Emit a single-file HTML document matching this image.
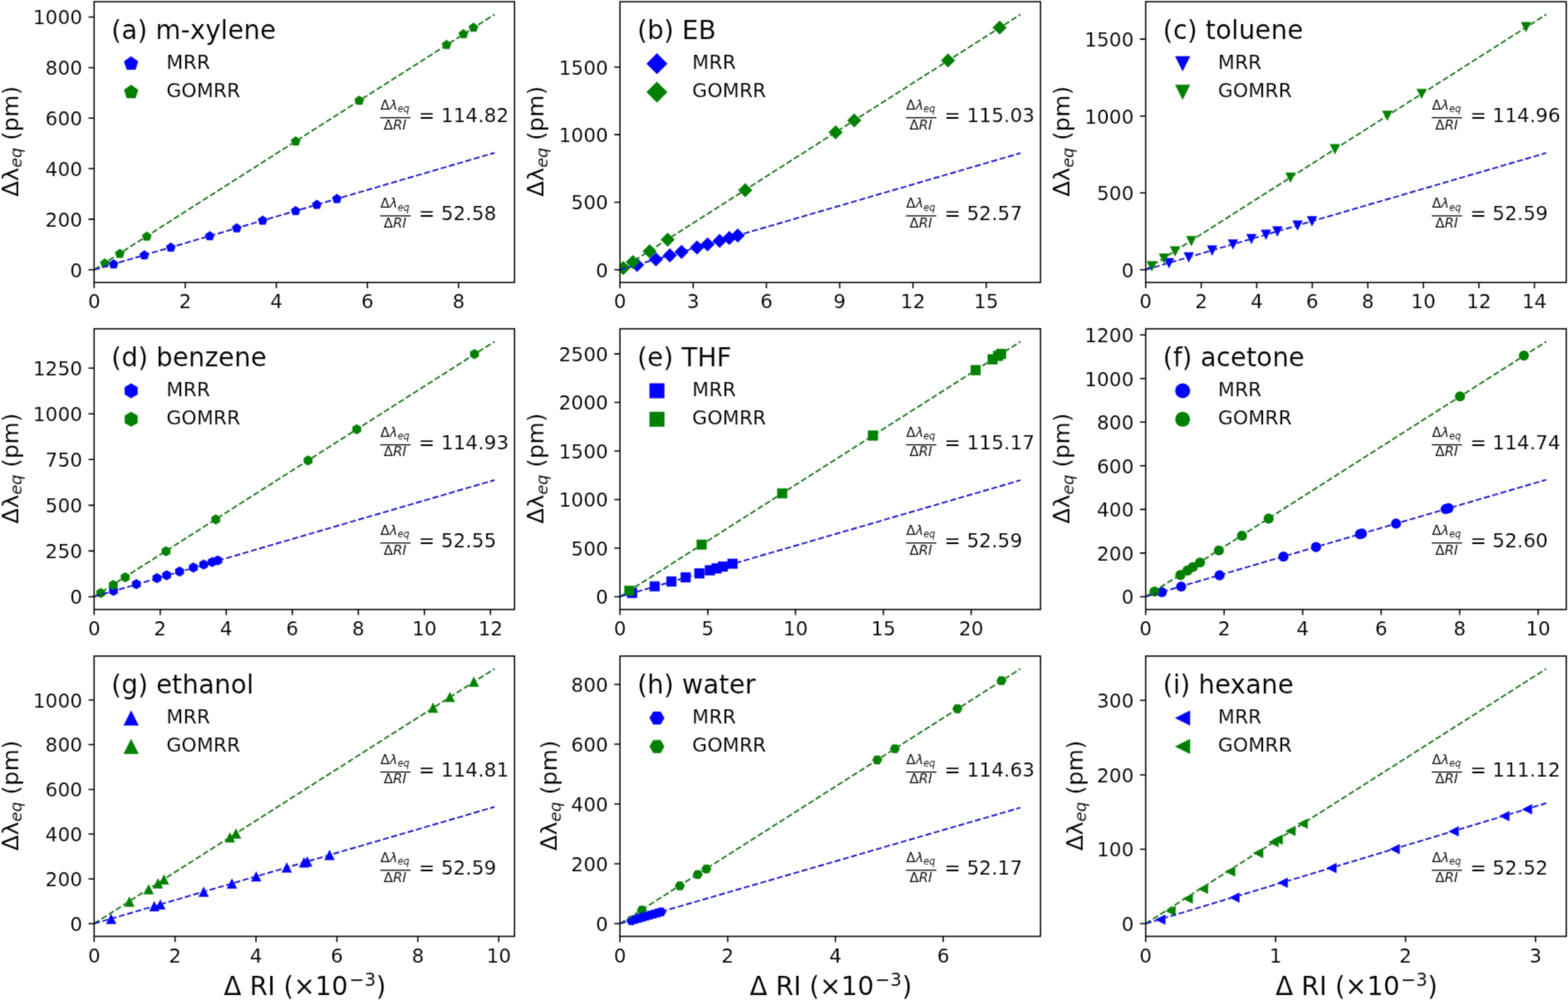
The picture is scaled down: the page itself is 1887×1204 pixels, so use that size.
<!DOCTYPE html>
<html lang="en">
<head>
<meta charset="utf-8">
<title>Sensitivity plots</title>
<style>
html,body{margin:0;padding:0;background:#fff;}
body{width:1887px;height:1204px;overflow:hidden;}
svg{display:block;}
svg text{font-family:"DejaVu Sans", "Liberation Sans", sans-serif;fill:#000;stroke:#fff;stroke-width:0.12px;}
</style>
</head>
<body>
<svg width="1887" height="1204" viewBox="0 0 1887 1204">
<defs><filter id="soft" x="0" y="0" width="1887" height="1204" filterUnits="userSpaceOnUse" color-interpolation-filters="sRGB"><feConvolveMatrix order="3" kernelMatrix="0.02768 0.11101 0.02768 0.11101 0.44521 0.11101 0.02768 0.11101 0.02768" divisor="1" edgeMode="duplicate" preserveAlpha="true"/></filter></defs>
<g filter="url(#soft)">
<rect width="1887" height="1204" fill="#fff"/>
<g>
<clipPath id="c0"><rect x="113.3" y="2.05" width="505.9" height="338.05"/></clipPath>
<g clip-path="url(#c0)">
<path transform="translate(136.7 318.18)" d="M0 -5.83 L5.55 -1.8 L3.43 4.72 L-3.43 4.72 L-5.55 -1.8Z" fill="#0000ff" stroke="#0000ff" stroke-width="0.5" stroke-linejoin="round"/>
<path transform="translate(126.2 317.08)" d="M0 -5.83 L5.55 -1.8 L3.43 4.72 L-3.43 4.72 L-5.55 -1.8Z" fill="#008000" stroke="#008000" stroke-width="0.5" stroke-linejoin="round"/>
<path transform="translate(173.7 307.33)" d="M0 -5.83 L5.55 -1.8 L3.43 4.72 L-3.43 4.72 L-5.55 -1.8Z" fill="#0000ff" stroke="#0000ff" stroke-width="0.5" stroke-linejoin="round"/>
<path transform="translate(144.2 305.56)" d="M0 -5.83 L5.55 -1.8 L3.43 4.72 L-3.43 4.72 L-5.55 -1.8Z" fill="#008000" stroke="#008000" stroke-width="0.5" stroke-linejoin="round"/>
<path transform="translate(205.6 297.98)" d="M0 -5.83 L5.55 -1.8 L3.43 4.72 L-3.43 4.72 L-5.55 -1.8Z" fill="#0000ff" stroke="#0000ff" stroke-width="0.5" stroke-linejoin="round"/>
<path transform="translate(176.7 284.77)" d="M0 -5.83 L5.55 -1.8 L3.43 4.72 L-3.43 4.72 L-5.55 -1.8Z" fill="#008000" stroke="#008000" stroke-width="0.5" stroke-linejoin="round"/>
<path transform="translate(252.4 284.27)" d="M0 -5.83 L5.55 -1.8 L3.43 4.72 L-3.43 4.72 L-5.55 -1.8Z" fill="#0000ff" stroke="#0000ff" stroke-width="0.5" stroke-linejoin="round"/>
<path transform="translate(355.8 170.18)" d="M0 -5.83 L5.55 -1.8 L3.43 4.72 L-3.43 4.72 L-5.55 -1.8Z" fill="#008000" stroke="#008000" stroke-width="0.5" stroke-linejoin="round"/>
<path transform="translate(284.9 274.74)" d="M0 -5.83 L5.55 -1.8 L3.43 4.72 L-3.43 4.72 L-5.55 -1.8Z" fill="#0000ff" stroke="#0000ff" stroke-width="0.5" stroke-linejoin="round"/>
<path transform="translate(432.4 121.17)" d="M0 -5.83 L5.55 -1.8 L3.43 4.72 L-3.43 4.72 L-5.55 -1.8Z" fill="#008000" stroke="#008000" stroke-width="0.5" stroke-linejoin="round"/>
<path transform="translate(316.1 265.6)" d="M0 -5.83 L5.55 -1.8 L3.43 4.72 L-3.43 4.72 L-5.55 -1.8Z" fill="#0000ff" stroke="#0000ff" stroke-width="0.5" stroke-linejoin="round"/>
<path transform="translate(537.4 54)" d="M0 -5.83 L5.55 -1.8 L3.43 4.72 L-3.43 4.72 L-5.55 -1.8Z" fill="#008000" stroke="#008000" stroke-width="0.5" stroke-linejoin="round"/>
<path transform="translate(355.8 253.97)" d="M0 -5.83 L5.55 -1.8 L3.43 4.72 L-3.43 4.72 L-5.55 -1.8Z" fill="#0000ff" stroke="#0000ff" stroke-width="0.5" stroke-linejoin="round"/>
<path transform="translate(557.7 41.01)" d="M0 -5.83 L5.55 -1.8 L3.43 4.72 L-3.43 4.72 L-5.55 -1.8Z" fill="#008000" stroke="#008000" stroke-width="0.5" stroke-linejoin="round"/>
<path transform="translate(381.3 246.49)" d="M0 -5.83 L5.55 -1.8 L3.43 4.72 L-3.43 4.72 L-5.55 -1.8Z" fill="#0000ff" stroke="#0000ff" stroke-width="0.5" stroke-linejoin="round"/>
<path transform="translate(569.8 33.27)" d="M0 -5.83 L5.55 -1.8 L3.43 4.72 L-3.43 4.72 L-5.55 -1.8Z" fill="#008000" stroke="#008000" stroke-width="0.5" stroke-linejoin="round"/>
<path transform="translate(405.4 239.43)" d="M0 -5.83 L5.55 -1.8 L3.43 4.72 L-3.43 4.72 L-5.55 -1.8Z" fill="#0000ff" stroke="#0000ff" stroke-width="0.5" stroke-linejoin="round"/>
<mask id="mg0" maskUnits="userSpaceOnUse" x="113.3" y="2.05" width="505.9" height="338.05"><rect x="113.3" y="2.05" width="505.9" height="338.05" fill="#fff"/><path transform="translate(126.2 317.08)" d="M0 -5.83 L5.55 -1.8 L3.43 4.72 L-3.43 4.72 L-5.55 -1.8Z" fill="#000" stroke="#000" stroke-width="0.5" stroke-linejoin="round"/><path transform="translate(144.2 305.56)" d="M0 -5.83 L5.55 -1.8 L3.43 4.72 L-3.43 4.72 L-5.55 -1.8Z" fill="#000" stroke="#000" stroke-width="0.5" stroke-linejoin="round"/><path transform="translate(176.7 284.77)" d="M0 -5.83 L5.55 -1.8 L3.43 4.72 L-3.43 4.72 L-5.55 -1.8Z" fill="#000" stroke="#000" stroke-width="0.5" stroke-linejoin="round"/><path transform="translate(355.8 170.18)" d="M0 -5.83 L5.55 -1.8 L3.43 4.72 L-3.43 4.72 L-5.55 -1.8Z" fill="#000" stroke="#000" stroke-width="0.5" stroke-linejoin="round"/><path transform="translate(432.4 121.17)" d="M0 -5.83 L5.55 -1.8 L3.43 4.72 L-3.43 4.72 L-5.55 -1.8Z" fill="#000" stroke="#000" stroke-width="0.5" stroke-linejoin="round"/><path transform="translate(537.4 54)" d="M0 -5.83 L5.55 -1.8 L3.43 4.72 L-3.43 4.72 L-5.55 -1.8Z" fill="#000" stroke="#000" stroke-width="0.5" stroke-linejoin="round"/><path transform="translate(557.7 41.01)" d="M0 -5.83 L5.55 -1.8 L3.43 4.72 L-3.43 4.72 L-5.55 -1.8Z" fill="#000" stroke="#000" stroke-width="0.5" stroke-linejoin="round"/><path transform="translate(569.8 33.27)" d="M0 -5.83 L5.55 -1.8 L3.43 4.72 L-3.43 4.72 L-5.55 -1.8Z" fill="#000" stroke="#000" stroke-width="0.5" stroke-linejoin="round"/></mask>
<mask id="mb0" maskUnits="userSpaceOnUse" x="113.3" y="2.05" width="505.9" height="338.05"><rect x="113.3" y="2.05" width="505.9" height="338.05" fill="#fff"/><path transform="translate(136.7 318.18)" d="M0 -5.83 L5.55 -1.8 L3.43 4.72 L-3.43 4.72 L-5.55 -1.8Z" fill="#000" stroke="#000" stroke-width="0.5" stroke-linejoin="round"/><path transform="translate(173.7 307.33)" d="M0 -5.83 L5.55 -1.8 L3.43 4.72 L-3.43 4.72 L-5.55 -1.8Z" fill="#000" stroke="#000" stroke-width="0.5" stroke-linejoin="round"/><path transform="translate(205.6 297.98)" d="M0 -5.83 L5.55 -1.8 L3.43 4.72 L-3.43 4.72 L-5.55 -1.8Z" fill="#000" stroke="#000" stroke-width="0.5" stroke-linejoin="round"/><path transform="translate(252.4 284.27)" d="M0 -5.83 L5.55 -1.8 L3.43 4.72 L-3.43 4.72 L-5.55 -1.8Z" fill="#000" stroke="#000" stroke-width="0.5" stroke-linejoin="round"/><path transform="translate(284.9 274.74)" d="M0 -5.83 L5.55 -1.8 L3.43 4.72 L-3.43 4.72 L-5.55 -1.8Z" fill="#000" stroke="#000" stroke-width="0.5" stroke-linejoin="round"/><path transform="translate(316.1 265.6)" d="M0 -5.83 L5.55 -1.8 L3.43 4.72 L-3.43 4.72 L-5.55 -1.8Z" fill="#000" stroke="#000" stroke-width="0.5" stroke-linejoin="round"/><path transform="translate(355.8 253.97)" d="M0 -5.83 L5.55 -1.8 L3.43 4.72 L-3.43 4.72 L-5.55 -1.8Z" fill="#000" stroke="#000" stroke-width="0.5" stroke-linejoin="round"/><path transform="translate(381.3 246.49)" d="M0 -5.83 L5.55 -1.8 L3.43 4.72 L-3.43 4.72 L-5.55 -1.8Z" fill="#000" stroke="#000" stroke-width="0.5" stroke-linejoin="round"/><path transform="translate(405.4 239.43)" d="M0 -5.83 L5.55 -1.8 L3.43 4.72 L-3.43 4.72 L-5.55 -1.8Z" fill="#000" stroke="#000" stroke-width="0.5" stroke-linejoin="round"/></mask>
<g mask="url(#mg0)"><path d="M113.3 324.73 L595.11 17.42" stroke="#1c761c" stroke-width="1.94" stroke-dasharray="7.222 3.123" fill="none"/></g>
<g mask="url(#mb0)"><path d="M113.3 324.73 L595.11 184" stroke="#1a14cc" stroke-width="1.94" stroke-dasharray="7.222 3.123" fill="none"/></g>
</g>
<rect x="113.3" y="2.05" width="505.9" height="338.05" fill="none" stroke="#000" stroke-width="1.56"/>
<path d="M113.3 340.1 v6.8M222.93 340.1 v6.8M332.55 340.1 v6.8M442.18 340.1 v6.8M551.81 340.1 v6.8M113.3 324.73 h-6.8M113.3 263.9 h-6.8M113.3 203.07 h-6.8M113.3 142.24 h-6.8M113.3 81.41 h-6.8M113.3 20.58 h-6.8" stroke="#000" stroke-width="1.56" fill="none"/>
<g font-size="23.33">
<text x="113.3" y="371.44" text-anchor="middle">0</text>
<text x="222.93" y="371.44" text-anchor="middle">2</text>
<text x="332.55" y="371.44" text-anchor="middle">4</text>
<text x="442.18" y="371.44" text-anchor="middle">6</text>
<text x="551.81" y="371.44" text-anchor="middle">8</text>
<text x="99.09" y="333.6" text-anchor="end">0</text>
<text x="99.09" y="272.77" text-anchor="end">200</text>
<text x="99.09" y="211.94" text-anchor="end">400</text>
<text x="99.09" y="151.11" text-anchor="end">600</text>
<text x="99.09" y="90.27" text-anchor="end">800</text>
<text x="99.09" y="29.44" text-anchor="end">1000</text>
</g>
<text x="134.1" y="46.65" font-size="31.1">(a) m-xylene</text>
<path transform="translate(157.8 76.65)" d="M0 -8.75 L8.32 -2.7 L5.14 7.08 L-5.14 7.08 L-8.32 -2.7Z" fill="#0000ff" stroke="#0000ff" stroke-width="0.5" stroke-linejoin="round"/>
<path transform="translate(157.8 110.95)" d="M0 -8.75 L8.32 -2.7 L5.14 7.08 L-5.14 7.08 L-8.32 -2.7Z" fill="#008000" stroke="#008000" stroke-width="0.5" stroke-linejoin="round"/>
<text x="200.3" y="83.25" font-size="23.33">MRR</text>
<text x="200.3" y="116.85" font-size="23.33">GOMRR</text>
<g><text x="457.7" y="132.05" font-size="16.33">Δ<tspan font-style="italic">λ</tspan><tspan font-style="italic" font-size="11.43" dy="3.27">eq</tspan></text><rect x="457.6" y="141.05" width="36.5" height="1.3" fill="#000"/><text x="461.8" y="155.55" font-size="16.33">Δ<tspan font-style="italic">RI</tspan></text><text x="503.7" y="146.65" font-size="23.33">= 114.82</text></g>
<g><text x="457.7" y="250.25" font-size="16.33">Δ<tspan font-style="italic">λ</tspan><tspan font-style="italic" font-size="11.43" dy="3.27">eq</tspan></text><rect x="457.6" y="259.25" width="36.5" height="1.3" fill="#000"/><text x="461.8" y="273.75" font-size="16.33">Δ<tspan font-style="italic">RI</tspan></text><text x="503.7" y="264.85" font-size="23.33">= 52.58</text></g>
<text transform="translate(21.6 170.18) rotate(-90)" font-size="27.4" text-anchor="middle">Δλ<tspan font-style="italic" font-size="19.18" dy="4.66">eq</tspan><tspan dy="-4.66"> (pm)</tspan></text>
</g>
<g>
<clipPath id="c1"><rect x="746.1" y="2.05" width="506.1" height="338.05"/></clipPath>
<g clip-path="url(#c1)">
<path transform="translate(766.7 319.01)" d="M0 -8.25 L8.25 0 L0 8.25 L-8.25 0Z" fill="#0000ff" stroke="#0000ff" stroke-width="0.5" stroke-linejoin="round"/>
<path transform="translate(750.05 322.81)" d="M0 -8.25 L8.25 0 L0 8.25 L-8.25 0Z" fill="#008000" stroke="#008000" stroke-width="0.5" stroke-linejoin="round"/>
<path transform="translate(789.4 312.37)" d="M0 -8.25 L8.25 0 L0 8.25 L-8.25 0Z" fill="#0000ff" stroke="#0000ff" stroke-width="0.5" stroke-linejoin="round"/>
<path transform="translate(761.55 315.45)" d="M0 -8.25 L8.25 0 L0 8.25 L-8.25 0Z" fill="#008000" stroke="#008000" stroke-width="0.5" stroke-linejoin="round"/>
<path transform="translate(806.1 307.49)" d="M0 -8.25 L8.25 0 L0 8.25 L-8.25 0Z" fill="#0000ff" stroke="#0000ff" stroke-width="0.5" stroke-linejoin="round"/>
<path transform="translate(781.8 302.5)" d="M0 -8.25 L8.25 0 L0 8.25 L-8.25 0Z" fill="#008000" stroke="#008000" stroke-width="0.5" stroke-linejoin="round"/>
<path transform="translate(820.2 303.37)" d="M0 -8.25 L8.25 0 L0 8.25 L-8.25 0Z" fill="#0000ff" stroke="#0000ff" stroke-width="0.5" stroke-linejoin="round"/>
<path transform="translate(803.5 288.62)" d="M0 -8.25 L8.25 0 L0 8.25 L-8.25 0Z" fill="#008000" stroke="#008000" stroke-width="0.5" stroke-linejoin="round"/>
<path transform="translate(838.8 297.93)" d="M0 -8.25 L8.25 0 L0 8.25 L-8.25 0Z" fill="#0000ff" stroke="#0000ff" stroke-width="0.5" stroke-linejoin="round"/>
<path transform="translate(896.8 228.95)" d="M0 -8.25 L8.25 0 L0 8.25 L-8.25 0Z" fill="#008000" stroke="#008000" stroke-width="0.5" stroke-linejoin="round"/>
<path transform="translate(851.5 294.22)" d="M0 -8.25 L8.25 0 L0 8.25 L-8.25 0Z" fill="#0000ff" stroke="#0000ff" stroke-width="0.5" stroke-linejoin="round"/>
<path transform="translate(1005.6 159.37)" d="M0 -8.25 L8.25 0 L0 8.25 L-8.25 0Z" fill="#008000" stroke="#008000" stroke-width="0.5" stroke-linejoin="round"/>
<path transform="translate(866 289.98)" d="M0 -8.25 L8.25 0 L0 8.25 L-8.25 0Z" fill="#0000ff" stroke="#0000ff" stroke-width="0.5" stroke-linejoin="round"/>
<path transform="translate(1028 145.05)" d="M0 -8.25 L8.25 0 L0 8.25 L-8.25 0Z" fill="#008000" stroke="#008000" stroke-width="0.5" stroke-linejoin="round"/>
<path transform="translate(877.7 286.56)" d="M0 -8.25 L8.25 0 L0 8.25 L-8.25 0Z" fill="#0000ff" stroke="#0000ff" stroke-width="0.5" stroke-linejoin="round"/>
<path transform="translate(1140.95 72.81)" d="M0 -8.25 L8.25 0 L0 8.25 L-8.25 0Z" fill="#008000" stroke="#008000" stroke-width="0.5" stroke-linejoin="round"/>
<path transform="translate(887.8 283.61)" d="M0 -8.25 L8.25 0 L0 8.25 L-8.25 0Z" fill="#0000ff" stroke="#0000ff" stroke-width="0.5" stroke-linejoin="round"/>
<path transform="translate(1203 33.13)" d="M0 -8.25 L8.25 0 L0 8.25 L-8.25 0Z" fill="#008000" stroke="#008000" stroke-width="0.5" stroke-linejoin="round"/>
<mask id="mg1" maskUnits="userSpaceOnUse" x="746.1" y="2.05" width="506.1" height="338.05"><rect x="746.1" y="2.05" width="506.1" height="338.05" fill="#fff"/><path transform="translate(750.05 322.81)" d="M0 -8.25 L8.25 0 L0 8.25 L-8.25 0Z" fill="#000" stroke="#000" stroke-width="0.5" stroke-linejoin="round"/><path transform="translate(761.55 315.45)" d="M0 -8.25 L8.25 0 L0 8.25 L-8.25 0Z" fill="#000" stroke="#000" stroke-width="0.5" stroke-linejoin="round"/><path transform="translate(781.8 302.5)" d="M0 -8.25 L8.25 0 L0 8.25 L-8.25 0Z" fill="#000" stroke="#000" stroke-width="0.5" stroke-linejoin="round"/><path transform="translate(803.5 288.62)" d="M0 -8.25 L8.25 0 L0 8.25 L-8.25 0Z" fill="#000" stroke="#000" stroke-width="0.5" stroke-linejoin="round"/><path transform="translate(896.8 228.95)" d="M0 -8.25 L8.25 0 L0 8.25 L-8.25 0Z" fill="#000" stroke="#000" stroke-width="0.5" stroke-linejoin="round"/><path transform="translate(1005.6 159.37)" d="M0 -8.25 L8.25 0 L0 8.25 L-8.25 0Z" fill="#000" stroke="#000" stroke-width="0.5" stroke-linejoin="round"/><path transform="translate(1028 145.05)" d="M0 -8.25 L8.25 0 L0 8.25 L-8.25 0Z" fill="#000" stroke="#000" stroke-width="0.5" stroke-linejoin="round"/><path transform="translate(1140.95 72.81)" d="M0 -8.25 L8.25 0 L0 8.25 L-8.25 0Z" fill="#000" stroke="#000" stroke-width="0.5" stroke-linejoin="round"/><path transform="translate(1203 33.13)" d="M0 -8.25 L8.25 0 L0 8.25 L-8.25 0Z" fill="#000" stroke="#000" stroke-width="0.5" stroke-linejoin="round"/></mask>
<mask id="mb1" maskUnits="userSpaceOnUse" x="746.1" y="2.05" width="506.1" height="338.05"><rect x="746.1" y="2.05" width="506.1" height="338.05" fill="#fff"/><path transform="translate(766.7 319.01)" d="M0 -8.25 L8.25 0 L0 8.25 L-8.25 0Z" fill="#000" stroke="#000" stroke-width="0.5" stroke-linejoin="round"/><path transform="translate(789.4 312.37)" d="M0 -8.25 L8.25 0 L0 8.25 L-8.25 0Z" fill="#000" stroke="#000" stroke-width="0.5" stroke-linejoin="round"/><path transform="translate(806.1 307.49)" d="M0 -8.25 L8.25 0 L0 8.25 L-8.25 0Z" fill="#000" stroke="#000" stroke-width="0.5" stroke-linejoin="round"/><path transform="translate(820.2 303.37)" d="M0 -8.25 L8.25 0 L0 8.25 L-8.25 0Z" fill="#000" stroke="#000" stroke-width="0.5" stroke-linejoin="round"/><path transform="translate(838.8 297.93)" d="M0 -8.25 L8.25 0 L0 8.25 L-8.25 0Z" fill="#000" stroke="#000" stroke-width="0.5" stroke-linejoin="round"/><path transform="translate(851.5 294.22)" d="M0 -8.25 L8.25 0 L0 8.25 L-8.25 0Z" fill="#000" stroke="#000" stroke-width="0.5" stroke-linejoin="round"/><path transform="translate(866 289.98)" d="M0 -8.25 L8.25 0 L0 8.25 L-8.25 0Z" fill="#000" stroke="#000" stroke-width="0.5" stroke-linejoin="round"/><path transform="translate(877.7 286.56)" d="M0 -8.25 L8.25 0 L0 8.25 L-8.25 0Z" fill="#000" stroke="#000" stroke-width="0.5" stroke-linejoin="round"/><path transform="translate(887.8 283.61)" d="M0 -8.25 L8.25 0 L0 8.25 L-8.25 0Z" fill="#000" stroke="#000" stroke-width="0.5" stroke-linejoin="round"/></mask>
<g mask="url(#mg1)"><path d="M746.1 324.73 L1228.1 17.42" stroke="#1c761c" stroke-width="1.94" stroke-dasharray="7.222 3.123" fill="none"/></g>
<g mask="url(#mb1)"><path d="M746.1 324.73 L1228.1 184.29" stroke="#1a14cc" stroke-width="1.94" stroke-dasharray="7.222 3.123" fill="none"/></g>
</g>
<rect x="746.1" y="2.05" width="506.1" height="338.05" fill="none" stroke="#000" stroke-width="1.56"/>
<path d="M746.1 340.1 v6.8M834.24 340.1 v6.8M922.39 340.1 v6.8M1010.53 340.1 v6.8M1098.68 340.1 v6.8M1186.82 340.1 v6.8M746.1 324.73 h-6.8M746.1 243.43 h-6.8M746.1 162.13 h-6.8M746.1 80.83 h-6.8" stroke="#000" stroke-width="1.56" fill="none"/>
<g font-size="23.33">
<text x="746.1" y="371.44" text-anchor="middle">0</text>
<text x="834.24" y="371.44" text-anchor="middle">3</text>
<text x="922.39" y="371.44" text-anchor="middle">6</text>
<text x="1010.53" y="371.44" text-anchor="middle">9</text>
<text x="1098.68" y="371.44" text-anchor="middle">12</text>
<text x="1186.82" y="371.44" text-anchor="middle">15</text>
<text x="731.89" y="333.6" text-anchor="end">0</text>
<text x="731.89" y="252.3" text-anchor="end">500</text>
<text x="731.89" y="171" text-anchor="end">1000</text>
<text x="731.89" y="89.7" text-anchor="end">1500</text>
</g>
<text x="766.9" y="46.65" font-size="31.1">(b) EB</text>
<path transform="translate(790.6 76.65)" d="M0 -12.37 L12.37 0 L0 12.37 L-12.37 0Z" fill="#0000ff" stroke="#0000ff" stroke-width="0.5" stroke-linejoin="round"/>
<path transform="translate(790.6 110.95)" d="M0 -12.37 L12.37 0 L0 12.37 L-12.37 0Z" fill="#008000" stroke="#008000" stroke-width="0.5" stroke-linejoin="round"/>
<text x="833.1" y="83.25" font-size="23.33">MRR</text>
<text x="833.1" y="116.85" font-size="23.33">GOMRR</text>
<g><text x="1090.5" y="132.05" font-size="16.33">Δ<tspan font-style="italic">λ</tspan><tspan font-style="italic" font-size="11.43" dy="3.27">eq</tspan></text><rect x="1090.4" y="141.05" width="36.5" height="1.3" fill="#000"/><text x="1094.6" y="155.55" font-size="16.33">Δ<tspan font-style="italic">RI</tspan></text><text x="1136.5" y="146.65" font-size="23.33">= 115.03</text></g>
<g><text x="1090.5" y="250.25" font-size="16.33">Δ<tspan font-style="italic">λ</tspan><tspan font-style="italic" font-size="11.43" dy="3.27">eq</tspan></text><rect x="1090.4" y="259.25" width="36.5" height="1.3" fill="#000"/><text x="1094.6" y="273.75" font-size="16.33">Δ<tspan font-style="italic">RI</tspan></text><text x="1136.5" y="264.85" font-size="23.33">= 52.57</text></g>
<text transform="translate(654.4 170.18) rotate(-90)" font-size="27.4" text-anchor="middle">Δλ<tspan font-style="italic" font-size="19.18" dy="4.66">eq</tspan><tspan dy="-4.66"> (pm)</tspan></text>
</g>
<g>
<clipPath id="c2"><rect x="1378.75" y="2.05" width="506.15" height="338.05"/></clipPath>
<g clip-path="url(#c2)">
<path transform="translate(1406.85 316.81)" d="M-5.83 -5.83 L5.83 -5.83 L0 5.83Z" fill="#0000ff" stroke="#0000ff" stroke-width="0.5" stroke-linejoin="round"/>
<path transform="translate(1386.15 320.6)" d="M-5.83 -5.83 L5.83 -5.83 L0 5.83Z" fill="#008000" stroke="#008000" stroke-width="0.5" stroke-linejoin="round"/>
<path transform="translate(1430.65 309.85)" d="M-5.83 -5.83 L5.83 -5.83 L0 5.83Z" fill="#0000ff" stroke="#0000ff" stroke-width="0.5" stroke-linejoin="round"/>
<path transform="translate(1400.75 311.27)" d="M-5.83 -5.83 L5.83 -5.83 L0 5.83Z" fill="#008000" stroke="#008000" stroke-width="0.5" stroke-linejoin="round"/>
<path transform="translate(1458.75 301.62)" d="M-5.83 -5.83 L5.83 -5.83 L0 5.83Z" fill="#0000ff" stroke="#0000ff" stroke-width="0.5" stroke-linejoin="round"/>
<path transform="translate(1414.15 302.7)" d="M-5.83 -5.83 L5.83 -5.83 L0 5.83Z" fill="#008000" stroke="#008000" stroke-width="0.5" stroke-linejoin="round"/>
<path transform="translate(1483.85 294.28)" d="M-5.83 -5.83 L5.83 -5.83 L0 5.83Z" fill="#0000ff" stroke="#0000ff" stroke-width="0.5" stroke-linejoin="round"/>
<path transform="translate(1433.65 290.23)" d="M-5.83 -5.83 L5.83 -5.83 L0 5.83Z" fill="#008000" stroke="#008000" stroke-width="0.5" stroke-linejoin="round"/>
<path transform="translate(1506.05 287.78)" d="M-5.83 -5.83 L5.83 -5.83 L0 5.83Z" fill="#0000ff" stroke="#0000ff" stroke-width="0.5" stroke-linejoin="round"/>
<path transform="translate(1553.05 213.87)" d="M-5.83 -5.83 L5.83 -5.83 L0 5.83Z" fill="#008000" stroke="#008000" stroke-width="0.5" stroke-linejoin="round"/>
<path transform="translate(1523.55 282.66)" d="M-5.83 -5.83 L5.83 -5.83 L0 5.83Z" fill="#0000ff" stroke="#0000ff" stroke-width="0.5" stroke-linejoin="round"/>
<path transform="translate(1606.55 179.66)" d="M-5.83 -5.83 L5.83 -5.83 L0 5.83Z" fill="#008000" stroke="#008000" stroke-width="0.5" stroke-linejoin="round"/>
<path transform="translate(1537.25 278.65)" d="M-5.83 -5.83 L5.83 -5.83 L0 5.83Z" fill="#0000ff" stroke="#0000ff" stroke-width="0.5" stroke-linejoin="round"/>
<path transform="translate(1669.55 139.37)" d="M-5.83 -5.83 L5.83 -5.83 L0 5.83Z" fill="#008000" stroke="#008000" stroke-width="0.5" stroke-linejoin="round"/>
<path transform="translate(1561.55 271.54)" d="M-5.83 -5.83 L5.83 -5.83 L0 5.83Z" fill="#0000ff" stroke="#0000ff" stroke-width="0.5" stroke-linejoin="round"/>
<path transform="translate(1710.85 112.96)" d="M-5.83 -5.83 L5.83 -5.83 L0 5.83Z" fill="#008000" stroke="#008000" stroke-width="0.5" stroke-linejoin="round"/>
<path transform="translate(1578.95 266.45)" d="M-5.83 -5.83 L5.83 -5.83 L0 5.83Z" fill="#0000ff" stroke="#0000ff" stroke-width="0.5" stroke-linejoin="round"/>
<path transform="translate(1836.45 32.64)" d="M-5.83 -5.83 L5.83 -5.83 L0 5.83Z" fill="#008000" stroke="#008000" stroke-width="0.5" stroke-linejoin="round"/>
<mask id="mg2" maskUnits="userSpaceOnUse" x="1378.75" y="2.05" width="506.15" height="338.05"><rect x="1378.75" y="2.05" width="506.15" height="338.05" fill="#fff"/><path transform="translate(1386.15 320.6)" d="M-5.83 -5.83 L5.83 -5.83 L0 5.83Z" fill="#000" stroke="#000" stroke-width="0.5" stroke-linejoin="round"/><path transform="translate(1400.75 311.27)" d="M-5.83 -5.83 L5.83 -5.83 L0 5.83Z" fill="#000" stroke="#000" stroke-width="0.5" stroke-linejoin="round"/><path transform="translate(1414.15 302.7)" d="M-5.83 -5.83 L5.83 -5.83 L0 5.83Z" fill="#000" stroke="#000" stroke-width="0.5" stroke-linejoin="round"/><path transform="translate(1433.65 290.23)" d="M-5.83 -5.83 L5.83 -5.83 L0 5.83Z" fill="#000" stroke="#000" stroke-width="0.5" stroke-linejoin="round"/><path transform="translate(1553.05 213.87)" d="M-5.83 -5.83 L5.83 -5.83 L0 5.83Z" fill="#000" stroke="#000" stroke-width="0.5" stroke-linejoin="round"/><path transform="translate(1606.55 179.66)" d="M-5.83 -5.83 L5.83 -5.83 L0 5.83Z" fill="#000" stroke="#000" stroke-width="0.5" stroke-linejoin="round"/><path transform="translate(1669.55 139.37)" d="M-5.83 -5.83 L5.83 -5.83 L0 5.83Z" fill="#000" stroke="#000" stroke-width="0.5" stroke-linejoin="round"/><path transform="translate(1710.85 112.96)" d="M-5.83 -5.83 L5.83 -5.83 L0 5.83Z" fill="#000" stroke="#000" stroke-width="0.5" stroke-linejoin="round"/><path transform="translate(1836.45 32.64)" d="M-5.83 -5.83 L5.83 -5.83 L0 5.83Z" fill="#000" stroke="#000" stroke-width="0.5" stroke-linejoin="round"/></mask>
<mask id="mb2" maskUnits="userSpaceOnUse" x="1378.75" y="2.05" width="506.15" height="338.05"><rect x="1378.75" y="2.05" width="506.15" height="338.05" fill="#fff"/><path transform="translate(1406.85 316.81)" d="M-5.83 -5.83 L5.83 -5.83 L0 5.83Z" fill="#000" stroke="#000" stroke-width="0.5" stroke-linejoin="round"/><path transform="translate(1430.65 309.85)" d="M-5.83 -5.83 L5.83 -5.83 L0 5.83Z" fill="#000" stroke="#000" stroke-width="0.5" stroke-linejoin="round"/><path transform="translate(1458.75 301.62)" d="M-5.83 -5.83 L5.83 -5.83 L0 5.83Z" fill="#000" stroke="#000" stroke-width="0.5" stroke-linejoin="round"/><path transform="translate(1483.85 294.28)" d="M-5.83 -5.83 L5.83 -5.83 L0 5.83Z" fill="#000" stroke="#000" stroke-width="0.5" stroke-linejoin="round"/><path transform="translate(1506.05 287.78)" d="M-5.83 -5.83 L5.83 -5.83 L0 5.83Z" fill="#000" stroke="#000" stroke-width="0.5" stroke-linejoin="round"/><path transform="translate(1523.55 282.66)" d="M-5.83 -5.83 L5.83 -5.83 L0 5.83Z" fill="#000" stroke="#000" stroke-width="0.5" stroke-linejoin="round"/><path transform="translate(1537.25 278.65)" d="M-5.83 -5.83 L5.83 -5.83 L0 5.83Z" fill="#000" stroke="#000" stroke-width="0.5" stroke-linejoin="round"/><path transform="translate(1561.55 271.54)" d="M-5.83 -5.83 L5.83 -5.83 L0 5.83Z" fill="#000" stroke="#000" stroke-width="0.5" stroke-linejoin="round"/><path transform="translate(1578.95 266.45)" d="M-5.83 -5.83 L5.83 -5.83 L0 5.83Z" fill="#000" stroke="#000" stroke-width="0.5" stroke-linejoin="round"/></mask>
<g mask="url(#mg2)"><path d="M1378.75 324.73 L1860.8 17.42" stroke="#1c761c" stroke-width="1.94" stroke-dasharray="7.222 3.123" fill="none"/></g>
<g mask="url(#mb2)"><path d="M1378.75 324.73 L1860.8 184.15" stroke="#1a14cc" stroke-width="1.94" stroke-dasharray="7.222 3.123" fill="none"/></g>
</g>
<rect x="1378.75" y="2.05" width="506.15" height="338.05" fill="none" stroke="#000" stroke-width="1.56"/>
<path d="M1378.75 340.1 v6.8M1445.59 340.1 v6.8M1512.42 340.1 v6.8M1579.26 340.1 v6.8M1646.09 340.1 v6.8M1712.93 340.1 v6.8M1779.76 340.1 v6.8M1846.6 340.1 v6.8M1378.75 324.73 h-6.8M1378.75 232.2 h-6.8M1378.75 139.66 h-6.8M1378.75 47.12 h-6.8" stroke="#000" stroke-width="1.56" fill="none"/>
<g font-size="23.33">
<text x="1378.75" y="371.44" text-anchor="middle">0</text>
<text x="1445.59" y="371.44" text-anchor="middle">2</text>
<text x="1512.42" y="371.44" text-anchor="middle">4</text>
<text x="1579.26" y="371.44" text-anchor="middle">6</text>
<text x="1646.09" y="371.44" text-anchor="middle">8</text>
<text x="1712.93" y="371.44" text-anchor="middle">10</text>
<text x="1779.76" y="371.44" text-anchor="middle">12</text>
<text x="1846.6" y="371.44" text-anchor="middle">14</text>
<text x="1364.54" y="333.6" text-anchor="end">0</text>
<text x="1364.54" y="241.06" text-anchor="end">500</text>
<text x="1364.54" y="148.52" text-anchor="end">1000</text>
<text x="1364.54" y="55.99" text-anchor="end">1500</text>
</g>
<text x="1399.55" y="46.65" font-size="31.1">(c) toluene</text>
<path transform="translate(1423.25 76.65)" d="M-8.75 -8.75 L8.75 -8.75 L0 8.75Z" fill="#0000ff" stroke="#0000ff" stroke-width="0.5" stroke-linejoin="round"/>
<path transform="translate(1423.25 110.95)" d="M-8.75 -8.75 L8.75 -8.75 L0 8.75Z" fill="#008000" stroke="#008000" stroke-width="0.5" stroke-linejoin="round"/>
<text x="1465.75" y="83.25" font-size="23.33">MRR</text>
<text x="1465.75" y="116.85" font-size="23.33">GOMRR</text>
<g><text x="1723.15" y="132.05" font-size="16.33">Δ<tspan font-style="italic">λ</tspan><tspan font-style="italic" font-size="11.43" dy="3.27">eq</tspan></text><rect x="1723.05" y="141.05" width="36.5" height="1.3" fill="#000"/><text x="1727.25" y="155.55" font-size="16.33">Δ<tspan font-style="italic">RI</tspan></text><text x="1769.15" y="146.65" font-size="23.33">= 114.96</text></g>
<g><text x="1723.15" y="250.25" font-size="16.33">Δ<tspan font-style="italic">λ</tspan><tspan font-style="italic" font-size="11.43" dy="3.27">eq</tspan></text><rect x="1723.05" y="259.25" width="36.5" height="1.3" fill="#000"/><text x="1727.25" y="273.75" font-size="16.33">Δ<tspan font-style="italic">RI</tspan></text><text x="1769.15" y="264.85" font-size="23.33">= 52.59</text></g>
<text transform="translate(1287.05 170.18) rotate(-90)" font-size="27.4" text-anchor="middle">Δλ<tspan font-style="italic" font-size="19.18" dy="4.66">eq</tspan><tspan dy="-4.66"> (pm)</tspan></text>
</g>
<g>
<clipPath id="c3"><rect x="113.3" y="395.9" width="505.9" height="337.9"/></clipPath>
<g clip-path="url(#c3)">
<path transform="translate(136.6 711.35)" d="M0 -5.83 L5.05 -2.92 L5.05 2.92 L0 5.83 L-5.05 2.92 L-5.05 -2.92Z" fill="#0000ff" stroke="#0000ff" stroke-width="0.5" stroke-linejoin="round"/>
<path transform="translate(121.2 713.99)" d="M0 -5.83 L5.05 -2.92 L5.05 2.92 L0 5.83 L-5.05 2.92 L-5.05 -2.92Z" fill="#008000" stroke="#008000" stroke-width="0.5" stroke-linejoin="round"/>
<path transform="translate(164.1 703.33)" d="M0 -5.83 L5.05 -2.92 L5.05 2.92 L0 5.83 L-5.05 2.92 L-5.05 -2.92Z" fill="#0000ff" stroke="#0000ff" stroke-width="0.5" stroke-linejoin="round"/>
<path transform="translate(136.3 704.33)" d="M0 -5.83 L5.05 -2.92 L5.05 2.92 L0 5.83 L-5.05 2.92 L-5.05 -2.92Z" fill="#008000" stroke="#008000" stroke-width="0.5" stroke-linejoin="round"/>
<path transform="translate(188.9 696.1)" d="M0 -5.83 L5.05 -2.92 L5.05 2.92 L0 5.83 L-5.05 2.92 L-5.05 -2.92Z" fill="#0000ff" stroke="#0000ff" stroke-width="0.5" stroke-linejoin="round"/>
<path transform="translate(150.7 695.12)" d="M0 -5.83 L5.05 -2.92 L5.05 2.92 L0 5.83 L-5.05 2.92 L-5.05 -2.92Z" fill="#008000" stroke="#008000" stroke-width="0.5" stroke-linejoin="round"/>
<path transform="translate(200.6 692.69)" d="M0 -5.83 L5.05 -2.92 L5.05 2.92 L0 5.83 L-5.05 2.92 L-5.05 -2.92Z" fill="#0000ff" stroke="#0000ff" stroke-width="0.5" stroke-linejoin="round"/>
<path transform="translate(199.8 663.72)" d="M0 -5.83 L5.05 -2.92 L5.05 2.92 L0 5.83 L-5.05 2.92 L-5.05 -2.92Z" fill="#008000" stroke="#008000" stroke-width="0.5" stroke-linejoin="round"/>
<path transform="translate(216.1 688.17)" d="M0 -5.83 L5.05 -2.92 L5.05 2.92 L0 5.83 L-5.05 2.92 L-5.05 -2.92Z" fill="#0000ff" stroke="#0000ff" stroke-width="0.5" stroke-linejoin="round"/>
<path transform="translate(259.7 625.42)" d="M0 -5.83 L5.05 -2.92 L5.05 2.92 L0 5.83 L-5.05 2.92 L-5.05 -2.92Z" fill="#008000" stroke="#008000" stroke-width="0.5" stroke-linejoin="round"/>
<path transform="translate(232.7 683.33)" d="M0 -5.83 L5.05 -2.92 L5.05 2.92 L0 5.83 L-5.05 2.92 L-5.05 -2.92Z" fill="#0000ff" stroke="#0000ff" stroke-width="0.5" stroke-linejoin="round"/>
<path transform="translate(370.8 554.37)" d="M0 -5.83 L5.05 -2.92 L5.05 2.92 L0 5.83 L-5.05 2.92 L-5.05 -2.92Z" fill="#008000" stroke="#008000" stroke-width="0.5" stroke-linejoin="round"/>
<path transform="translate(245.1 679.72)" d="M0 -5.83 L5.05 -2.92 L5.05 2.92 L0 5.83 L-5.05 2.92 L-5.05 -2.92Z" fill="#0000ff" stroke="#0000ff" stroke-width="0.5" stroke-linejoin="round"/>
<path transform="translate(429.3 516.95)" d="M0 -5.83 L5.05 -2.92 L5.05 2.92 L0 5.83 L-5.05 2.92 L-5.05 -2.92Z" fill="#008000" stroke="#008000" stroke-width="0.5" stroke-linejoin="round"/>
<path transform="translate(255.3 676.75)" d="M0 -5.83 L5.05 -2.92 L5.05 2.92 L0 5.83 L-5.05 2.92 L-5.05 -2.92Z" fill="#0000ff" stroke="#0000ff" stroke-width="0.5" stroke-linejoin="round"/>
<path transform="translate(571.05 426.3)" d="M0 -5.83 L5.05 -2.92 L5.05 2.92 L0 5.83 L-5.05 2.92 L-5.05 -2.92Z" fill="#008000" stroke="#008000" stroke-width="0.5" stroke-linejoin="round"/>
<path transform="translate(262.1 674.76)" d="M0 -5.83 L5.05 -2.92 L5.05 2.92 L0 5.83 L-5.05 2.92 L-5.05 -2.92Z" fill="#0000ff" stroke="#0000ff" stroke-width="0.5" stroke-linejoin="round"/>
<mask id="mg3" maskUnits="userSpaceOnUse" x="113.3" y="395.9" width="505.9" height="337.9"><rect x="113.3" y="395.9" width="505.9" height="337.9" fill="#fff"/><path transform="translate(121.2 713.99)" d="M0 -5.83 L5.05 -2.92 L5.05 2.92 L0 5.83 L-5.05 2.92 L-5.05 -2.92Z" fill="#000" stroke="#000" stroke-width="0.5" stroke-linejoin="round"/><path transform="translate(136.3 704.33)" d="M0 -5.83 L5.05 -2.92 L5.05 2.92 L0 5.83 L-5.05 2.92 L-5.05 -2.92Z" fill="#000" stroke="#000" stroke-width="0.5" stroke-linejoin="round"/><path transform="translate(150.7 695.12)" d="M0 -5.83 L5.05 -2.92 L5.05 2.92 L0 5.83 L-5.05 2.92 L-5.05 -2.92Z" fill="#000" stroke="#000" stroke-width="0.5" stroke-linejoin="round"/><path transform="translate(199.8 663.72)" d="M0 -5.83 L5.05 -2.92 L5.05 2.92 L0 5.83 L-5.05 2.92 L-5.05 -2.92Z" fill="#000" stroke="#000" stroke-width="0.5" stroke-linejoin="round"/><path transform="translate(259.7 625.42)" d="M0 -5.83 L5.05 -2.92 L5.05 2.92 L0 5.83 L-5.05 2.92 L-5.05 -2.92Z" fill="#000" stroke="#000" stroke-width="0.5" stroke-linejoin="round"/><path transform="translate(370.8 554.37)" d="M0 -5.83 L5.05 -2.92 L5.05 2.92 L0 5.83 L-5.05 2.92 L-5.05 -2.92Z" fill="#000" stroke="#000" stroke-width="0.5" stroke-linejoin="round"/><path transform="translate(429.3 516.95)" d="M0 -5.83 L5.05 -2.92 L5.05 2.92 L0 5.83 L-5.05 2.92 L-5.05 -2.92Z" fill="#000" stroke="#000" stroke-width="0.5" stroke-linejoin="round"/><path transform="translate(571.05 426.3)" d="M0 -5.83 L5.05 -2.92 L5.05 2.92 L0 5.83 L-5.05 2.92 L-5.05 -2.92Z" fill="#000" stroke="#000" stroke-width="0.5" stroke-linejoin="round"/></mask>
<mask id="mb3" maskUnits="userSpaceOnUse" x="113.3" y="395.9" width="505.9" height="337.9"><rect x="113.3" y="395.9" width="505.9" height="337.9" fill="#fff"/><path transform="translate(136.6 711.35)" d="M0 -5.83 L5.05 -2.92 L5.05 2.92 L0 5.83 L-5.05 2.92 L-5.05 -2.92Z" fill="#000" stroke="#000" stroke-width="0.5" stroke-linejoin="round"/><path transform="translate(164.1 703.33)" d="M0 -5.83 L5.05 -2.92 L5.05 2.92 L0 5.83 L-5.05 2.92 L-5.05 -2.92Z" fill="#000" stroke="#000" stroke-width="0.5" stroke-linejoin="round"/><path transform="translate(188.9 696.1)" d="M0 -5.83 L5.05 -2.92 L5.05 2.92 L0 5.83 L-5.05 2.92 L-5.05 -2.92Z" fill="#000" stroke="#000" stroke-width="0.5" stroke-linejoin="round"/><path transform="translate(200.6 692.69)" d="M0 -5.83 L5.05 -2.92 L5.05 2.92 L0 5.83 L-5.05 2.92 L-5.05 -2.92Z" fill="#000" stroke="#000" stroke-width="0.5" stroke-linejoin="round"/><path transform="translate(216.1 688.17)" d="M0 -5.83 L5.05 -2.92 L5.05 2.92 L0 5.83 L-5.05 2.92 L-5.05 -2.92Z" fill="#000" stroke="#000" stroke-width="0.5" stroke-linejoin="round"/><path transform="translate(232.7 683.33)" d="M0 -5.83 L5.05 -2.92 L5.05 2.92 L0 5.83 L-5.05 2.92 L-5.05 -2.92Z" fill="#000" stroke="#000" stroke-width="0.5" stroke-linejoin="round"/><path transform="translate(245.1 679.72)" d="M0 -5.83 L5.05 -2.92 L5.05 2.92 L0 5.83 L-5.05 2.92 L-5.05 -2.92Z" fill="#000" stroke="#000" stroke-width="0.5" stroke-linejoin="round"/><path transform="translate(255.3 676.75)" d="M0 -5.83 L5.05 -2.92 L5.05 2.92 L0 5.83 L-5.05 2.92 L-5.05 -2.92Z" fill="#000" stroke="#000" stroke-width="0.5" stroke-linejoin="round"/><path transform="translate(262.1 674.76)" d="M0 -5.83 L5.05 -2.92 L5.05 2.92 L0 5.83 L-5.05 2.92 L-5.05 -2.92Z" fill="#000" stroke="#000" stroke-width="0.5" stroke-linejoin="round"/></mask>
<g mask="url(#mg3)"><path d="M113.3 718.44 L595.11 411.26" stroke="#1c761c" stroke-width="1.94" stroke-dasharray="7.222 3.123" fill="none"/></g>
<g mask="url(#mb3)"><path d="M113.3 718.44 L595.11 577.99" stroke="#1a14cc" stroke-width="1.94" stroke-dasharray="7.222 3.123" fill="none"/></g>
</g>
<rect x="113.3" y="395.9" width="505.9" height="337.9" fill="none" stroke="#000" stroke-width="1.56"/>
<path d="M113.3 733.8 v6.8M192.79 733.8 v6.8M272.29 733.8 v6.8M351.78 733.8 v6.8M431.27 733.8 v6.8M510.77 733.8 v6.8M590.26 733.8 v6.8M113.3 718.44 h-6.8M113.3 663.4 h-6.8M113.3 608.36 h-6.8M113.3 553.32 h-6.8M113.3 498.28 h-6.8M113.3 443.24 h-6.8" stroke="#000" stroke-width="1.56" fill="none"/>
<g font-size="23.33">
<text x="113.3" y="765.14" text-anchor="middle">0</text>
<text x="192.79" y="765.14" text-anchor="middle">2</text>
<text x="272.29" y="765.14" text-anchor="middle">4</text>
<text x="351.78" y="765.14" text-anchor="middle">6</text>
<text x="431.27" y="765.14" text-anchor="middle">8</text>
<text x="510.77" y="765.14" text-anchor="middle">10</text>
<text x="590.26" y="765.14" text-anchor="middle">12</text>
<text x="99.09" y="727.31" text-anchor="end">0</text>
<text x="99.09" y="672.26" text-anchor="end">250</text>
<text x="99.09" y="617.22" text-anchor="end">500</text>
<text x="99.09" y="562.18" text-anchor="end">750</text>
<text x="99.09" y="507.14" text-anchor="end">1000</text>
<text x="99.09" y="452.1" text-anchor="end">1250</text>
</g>
<text x="134.1" y="440.5" font-size="31.1">(d) benzene</text>
<path transform="translate(157.8 470.5)" d="M0 -8.75 L7.58 -4.37 L7.58 4.37 L0 8.75 L-7.58 4.37 L-7.58 -4.37Z" fill="#0000ff" stroke="#0000ff" stroke-width="0.5" stroke-linejoin="round"/>
<path transform="translate(157.8 504.8)" d="M0 -8.75 L7.58 -4.37 L7.58 4.37 L0 8.75 L-7.58 4.37 L-7.58 -4.37Z" fill="#008000" stroke="#008000" stroke-width="0.5" stroke-linejoin="round"/>
<text x="200.3" y="477.1" font-size="23.33">MRR</text>
<text x="200.3" y="510.7" font-size="23.33">GOMRR</text>
<g><text x="457.7" y="525.9" font-size="16.33">Δ<tspan font-style="italic">λ</tspan><tspan font-style="italic" font-size="11.43" dy="3.27">eq</tspan></text><rect x="457.6" y="534.9" width="36.5" height="1.3" fill="#000"/><text x="461.8" y="549.4" font-size="16.33">Δ<tspan font-style="italic">RI</tspan></text><text x="503.7" y="540.5" font-size="23.33">= 114.93</text></g>
<g><text x="457.7" y="644.1" font-size="16.33">Δ<tspan font-style="italic">λ</tspan><tspan font-style="italic" font-size="11.43" dy="3.27">eq</tspan></text><rect x="457.6" y="653.1" width="36.5" height="1.3" fill="#000"/><text x="461.8" y="667.6" font-size="16.33">Δ<tspan font-style="italic">RI</tspan></text><text x="503.7" y="658.7" font-size="23.33">= 52.55</text></g>
<text transform="translate(21.6 563.95) rotate(-90)" font-size="27.4" text-anchor="middle">Δλ<tspan font-style="italic" font-size="19.18" dy="4.66">eq</tspan><tspan dy="-4.66"> (pm)</tspan></text>
</g>
<g>
<clipPath id="c4"><rect x="746.1" y="395.9" width="506.1" height="337.9"/></clipPath>
<g clip-path="url(#c4)">
<path transform="translate(760.7 713.89)" d="M-5.83 -5.83 L5.83 -5.83 L5.83 5.83 L-5.83 5.83Z" fill="#0000ff" stroke="#0000ff" stroke-width="0.5" stroke-linejoin="round"/>
<path transform="translate(757.4 711.24)" d="M-5.83 -5.83 L5.83 -5.83 L5.83 5.83 L-5.83 5.83Z" fill="#008000" stroke="#008000" stroke-width="0.5" stroke-linejoin="round"/>
<path transform="translate(787.9 705.98)" d="M-5.83 -5.83 L5.83 -5.83 L5.83 5.83 L-5.83 5.83Z" fill="#0000ff" stroke="#0000ff" stroke-width="0.5" stroke-linejoin="round"/>
<path transform="translate(844.4 655.79)" d="M-5.83 -5.83 L5.83 -5.83 L5.83 5.83 L-5.83 5.83Z" fill="#008000" stroke="#008000" stroke-width="0.5" stroke-linejoin="round"/>
<path transform="translate(808 700.13)" d="M-5.83 -5.83 L5.83 -5.83 L5.83 5.83 L-5.83 5.83Z" fill="#0000ff" stroke="#0000ff" stroke-width="0.5" stroke-linejoin="round"/>
<path transform="translate(941.3 594.04)" d="M-5.83 -5.83 L5.83 -5.83 L5.83 5.83 L-5.83 5.83Z" fill="#008000" stroke="#008000" stroke-width="0.5" stroke-linejoin="round"/>
<path transform="translate(825.1 695.15)" d="M-5.83 -5.83 L5.83 -5.83 L5.83 5.83 L-5.83 5.83Z" fill="#0000ff" stroke="#0000ff" stroke-width="0.5" stroke-linejoin="round"/>
<path transform="translate(1050.5 524.44)" d="M-5.83 -5.83 L5.83 -5.83 L5.83 5.83 L-5.83 5.83Z" fill="#008000" stroke="#008000" stroke-width="0.5" stroke-linejoin="round"/>
<path transform="translate(841.7 690.32)" d="M-5.83 -5.83 L5.83 -5.83 L5.83 5.83 L-5.83 5.83Z" fill="#0000ff" stroke="#0000ff" stroke-width="0.5" stroke-linejoin="round"/>
<path transform="translate(1174.1 445.67)" d="M-5.83 -5.83 L5.83 -5.83 L5.83 5.83 L-5.83 5.83Z" fill="#008000" stroke="#008000" stroke-width="0.5" stroke-linejoin="round"/>
<path transform="translate(854.3 686.65)" d="M-5.83 -5.83 L5.83 -5.83 L5.83 5.83 L-5.83 5.83Z" fill="#0000ff" stroke="#0000ff" stroke-width="0.5" stroke-linejoin="round"/>
<path transform="translate(1194.6 432.61)" d="M-5.83 -5.83 L5.83 -5.83 L5.83 5.83 L-5.83 5.83Z" fill="#008000" stroke="#008000" stroke-width="0.5" stroke-linejoin="round"/>
<path transform="translate(862.4 684.3)" d="M-5.83 -5.83 L5.83 -5.83 L5.83 5.83 L-5.83 5.83Z" fill="#0000ff" stroke="#0000ff" stroke-width="0.5" stroke-linejoin="round"/>
<path transform="translate(1201.1 428.47)" d="M-5.83 -5.83 L5.83 -5.83 L5.83 5.83 L-5.83 5.83Z" fill="#008000" stroke="#008000" stroke-width="0.5" stroke-linejoin="round"/>
<path transform="translate(870 682.08)" d="M-5.83 -5.83 L5.83 -5.83 L5.83 5.83 L-5.83 5.83Z" fill="#0000ff" stroke="#0000ff" stroke-width="0.5" stroke-linejoin="round"/>
<path transform="translate(1204.7 426.17)" d="M-5.83 -5.83 L5.83 -5.83 L5.83 5.83 L-5.83 5.83Z" fill="#008000" stroke="#008000" stroke-width="0.5" stroke-linejoin="round"/>
<path transform="translate(881.6 678.71)" d="M-5.83 -5.83 L5.83 -5.83 L5.83 5.83 L-5.83 5.83Z" fill="#0000ff" stroke="#0000ff" stroke-width="0.5" stroke-linejoin="round"/>
<mask id="mg4" maskUnits="userSpaceOnUse" x="746.1" y="395.9" width="506.1" height="337.9"><rect x="746.1" y="395.9" width="506.1" height="337.9" fill="#fff"/><path transform="translate(757.4 711.24)" d="M-5.83 -5.83 L5.83 -5.83 L5.83 5.83 L-5.83 5.83Z" fill="#000" stroke="#000" stroke-width="0.5" stroke-linejoin="round"/><path transform="translate(844.4 655.79)" d="M-5.83 -5.83 L5.83 -5.83 L5.83 5.83 L-5.83 5.83Z" fill="#000" stroke="#000" stroke-width="0.5" stroke-linejoin="round"/><path transform="translate(941.3 594.04)" d="M-5.83 -5.83 L5.83 -5.83 L5.83 5.83 L-5.83 5.83Z" fill="#000" stroke="#000" stroke-width="0.5" stroke-linejoin="round"/><path transform="translate(1050.5 524.44)" d="M-5.83 -5.83 L5.83 -5.83 L5.83 5.83 L-5.83 5.83Z" fill="#000" stroke="#000" stroke-width="0.5" stroke-linejoin="round"/><path transform="translate(1174.1 445.67)" d="M-5.83 -5.83 L5.83 -5.83 L5.83 5.83 L-5.83 5.83Z" fill="#000" stroke="#000" stroke-width="0.5" stroke-linejoin="round"/><path transform="translate(1194.6 432.61)" d="M-5.83 -5.83 L5.83 -5.83 L5.83 5.83 L-5.83 5.83Z" fill="#000" stroke="#000" stroke-width="0.5" stroke-linejoin="round"/><path transform="translate(1201.1 428.47)" d="M-5.83 -5.83 L5.83 -5.83 L5.83 5.83 L-5.83 5.83Z" fill="#000" stroke="#000" stroke-width="0.5" stroke-linejoin="round"/><path transform="translate(1204.7 426.17)" d="M-5.83 -5.83 L5.83 -5.83 L5.83 5.83 L-5.83 5.83Z" fill="#000" stroke="#000" stroke-width="0.5" stroke-linejoin="round"/></mask>
<mask id="mb4" maskUnits="userSpaceOnUse" x="746.1" y="395.9" width="506.1" height="337.9"><rect x="746.1" y="395.9" width="506.1" height="337.9" fill="#fff"/><path transform="translate(760.7 713.89)" d="M-5.83 -5.83 L5.83 -5.83 L5.83 5.83 L-5.83 5.83Z" fill="#000" stroke="#000" stroke-width="0.5" stroke-linejoin="round"/><path transform="translate(787.9 705.98)" d="M-5.83 -5.83 L5.83 -5.83 L5.83 5.83 L-5.83 5.83Z" fill="#000" stroke="#000" stroke-width="0.5" stroke-linejoin="round"/><path transform="translate(808 700.13)" d="M-5.83 -5.83 L5.83 -5.83 L5.83 5.83 L-5.83 5.83Z" fill="#000" stroke="#000" stroke-width="0.5" stroke-linejoin="round"/><path transform="translate(825.1 695.15)" d="M-5.83 -5.83 L5.83 -5.83 L5.83 5.83 L-5.83 5.83Z" fill="#000" stroke="#000" stroke-width="0.5" stroke-linejoin="round"/><path transform="translate(841.7 690.32)" d="M-5.83 -5.83 L5.83 -5.83 L5.83 5.83 L-5.83 5.83Z" fill="#000" stroke="#000" stroke-width="0.5" stroke-linejoin="round"/><path transform="translate(854.3 686.65)" d="M-5.83 -5.83 L5.83 -5.83 L5.83 5.83 L-5.83 5.83Z" fill="#000" stroke="#000" stroke-width="0.5" stroke-linejoin="round"/><path transform="translate(862.4 684.3)" d="M-5.83 -5.83 L5.83 -5.83 L5.83 5.83 L-5.83 5.83Z" fill="#000" stroke="#000" stroke-width="0.5" stroke-linejoin="round"/><path transform="translate(870 682.08)" d="M-5.83 -5.83 L5.83 -5.83 L5.83 5.83 L-5.83 5.83Z" fill="#000" stroke="#000" stroke-width="0.5" stroke-linejoin="round"/><path transform="translate(881.6 678.71)" d="M-5.83 -5.83 L5.83 -5.83 L5.83 5.83 L-5.83 5.83Z" fill="#000" stroke="#000" stroke-width="0.5" stroke-linejoin="round"/></mask>
<g mask="url(#mg4)"><path d="M746.1 718.44 L1228.1 411.26" stroke="#1c761c" stroke-width="1.94" stroke-dasharray="7.222 3.123" fill="none"/></g>
<g mask="url(#mb4)"><path d="M746.1 718.44 L1228.1 578.17" stroke="#1a14cc" stroke-width="1.94" stroke-dasharray="7.222 3.123" fill="none"/></g>
</g>
<rect x="746.1" y="395.9" width="506.1" height="337.9" fill="none" stroke="#000" stroke-width="1.56"/>
<path d="M746.1 733.8 v6.8M851.76 733.8 v6.8M957.41 733.8 v6.8M1063.07 733.8 v6.8M1168.72 733.8 v6.8M746.1 718.44 h-6.8M746.1 659.98 h-6.8M746.1 601.51 h-6.8M746.1 543.04 h-6.8M746.1 484.58 h-6.8M746.1 426.11 h-6.8" stroke="#000" stroke-width="1.56" fill="none"/>
<g font-size="23.33">
<text x="746.1" y="765.14" text-anchor="middle">0</text>
<text x="851.76" y="765.14" text-anchor="middle">5</text>
<text x="957.41" y="765.14" text-anchor="middle">10</text>
<text x="1063.07" y="765.14" text-anchor="middle">15</text>
<text x="1168.72" y="765.14" text-anchor="middle">20</text>
<text x="731.89" y="727.31" text-anchor="end">0</text>
<text x="731.89" y="668.84" text-anchor="end">500</text>
<text x="731.89" y="610.37" text-anchor="end">1000</text>
<text x="731.89" y="551.91" text-anchor="end">1500</text>
<text x="731.89" y="493.44" text-anchor="end">2000</text>
<text x="731.89" y="434.98" text-anchor="end">2500</text>
</g>
<text x="766.9" y="440.5" font-size="31.1">(e) THF</text>
<path transform="translate(790.6 470.5)" d="M-8.75 -8.75 L8.75 -8.75 L8.75 8.75 L-8.75 8.75Z" fill="#0000ff" stroke="#0000ff" stroke-width="0.5" stroke-linejoin="round"/>
<path transform="translate(790.6 504.8)" d="M-8.75 -8.75 L8.75 -8.75 L8.75 8.75 L-8.75 8.75Z" fill="#008000" stroke="#008000" stroke-width="0.5" stroke-linejoin="round"/>
<text x="833.1" y="477.1" font-size="23.33">MRR</text>
<text x="833.1" y="510.7" font-size="23.33">GOMRR</text>
<g><text x="1090.5" y="525.9" font-size="16.33">Δ<tspan font-style="italic">λ</tspan><tspan font-style="italic" font-size="11.43" dy="3.27">eq</tspan></text><rect x="1090.4" y="534.9" width="36.5" height="1.3" fill="#000"/><text x="1094.6" y="549.4" font-size="16.33">Δ<tspan font-style="italic">RI</tspan></text><text x="1136.5" y="540.5" font-size="23.33">= 115.17</text></g>
<g><text x="1090.5" y="644.1" font-size="16.33">Δ<tspan font-style="italic">λ</tspan><tspan font-style="italic" font-size="11.43" dy="3.27">eq</tspan></text><rect x="1090.4" y="653.1" width="36.5" height="1.3" fill="#000"/><text x="1094.6" y="667.6" font-size="16.33">Δ<tspan font-style="italic">RI</tspan></text><text x="1136.5" y="658.7" font-size="23.33">= 52.59</text></g>
<text transform="translate(654.4 563.95) rotate(-90)" font-size="27.4" text-anchor="middle">Δλ<tspan font-style="italic" font-size="19.18" dy="4.66">eq</tspan><tspan dy="-4.66"> (pm)</tspan></text>
</g>
<g>
<clipPath id="c5"><rect x="1378.75" y="395.9" width="506.15" height="337.9"/></clipPath>
<g clip-path="url(#c5)">
<circle cx="1398.3" cy="713.01" r="6.08" fill="#0000ff"/>
<circle cx="1389.35" cy="712.27" r="6.08" fill="#008000"/>
<circle cx="1421.45" cy="706.23" r="6.08" fill="#0000ff"/>
<circle cx="1420.45" cy="692.39" r="6.08" fill="#008000"/>
<circle cx="1467.65" cy="692.68" r="6.08" fill="#0000ff"/>
<circle cx="1429.05" cy="686.89" r="6.08" fill="#008000"/>
<circle cx="1544.55" cy="670.14" r="6.08" fill="#0000ff"/>
<circle cx="1435.55" cy="682.73" r="6.08" fill="#008000"/>
<circle cx="1583.75" cy="658.65" r="6.08" fill="#0000ff"/>
<circle cx="1444.15" cy="677.24" r="6.08" fill="#008000"/>
<circle cx="1636.65" cy="643.15" r="6.08" fill="#0000ff"/>
<circle cx="1466.85" cy="662.73" r="6.08" fill="#008000"/>
<circle cx="1639.05" cy="642.44" r="6.08" fill="#0000ff"/>
<circle cx="1494.65" cy="644.96" r="6.08" fill="#008000"/>
<circle cx="1680.05" cy="630.43" r="6.08" fill="#0000ff"/>
<circle cx="1526.75" cy="624.44" r="6.08" fill="#008000"/>
<circle cx="1739.75" cy="612.93" r="6.08" fill="#0000ff"/>
<circle cx="1757.05" cy="477.23" r="6.08" fill="#008000"/>
<circle cx="1743.25" cy="611.9" r="6.08" fill="#0000ff"/>
<circle cx="1833.95" cy="428.08" r="6.08" fill="#008000"/>
<mask id="mg5" maskUnits="userSpaceOnUse" x="1378.75" y="395.9" width="506.15" height="337.9"><rect x="1378.75" y="395.9" width="506.15" height="337.9" fill="#fff"/><circle cx="1389.35" cy="712.27" r="6.08" fill="#000"/><circle cx="1420.45" cy="692.39" r="6.08" fill="#000"/><circle cx="1429.05" cy="686.89" r="6.08" fill="#000"/><circle cx="1435.55" cy="682.73" r="6.08" fill="#000"/><circle cx="1444.15" cy="677.24" r="6.08" fill="#000"/><circle cx="1466.85" cy="662.73" r="6.08" fill="#000"/><circle cx="1494.65" cy="644.96" r="6.08" fill="#000"/><circle cx="1526.75" cy="624.44" r="6.08" fill="#000"/><circle cx="1757.05" cy="477.23" r="6.08" fill="#000"/><circle cx="1833.95" cy="428.08" r="6.08" fill="#000"/></mask>
<mask id="mb5" maskUnits="userSpaceOnUse" x="1378.75" y="395.9" width="506.15" height="337.9"><rect x="1378.75" y="395.9" width="506.15" height="337.9" fill="#fff"/><circle cx="1398.3" cy="713.01" r="6.08" fill="#000"/><circle cx="1421.45" cy="706.23" r="6.08" fill="#000"/><circle cx="1467.65" cy="692.68" r="6.08" fill="#000"/><circle cx="1544.55" cy="670.14" r="6.08" fill="#000"/><circle cx="1583.75" cy="658.65" r="6.08" fill="#000"/><circle cx="1636.65" cy="643.15" r="6.08" fill="#000"/><circle cx="1639.05" cy="642.44" r="6.08" fill="#000"/><circle cx="1680.05" cy="630.43" r="6.08" fill="#000"/><circle cx="1739.75" cy="612.93" r="6.08" fill="#000"/><circle cx="1743.25" cy="611.9" r="6.08" fill="#000"/></mask>
<g mask="url(#mg5)"><path d="M1378.75 718.44 L1860.8 411.26" stroke="#1c761c" stroke-width="1.94" stroke-dasharray="7.222 3.123" fill="none"/></g>
<g mask="url(#mb5)"><path d="M1378.75 718.44 L1860.8 577.62" stroke="#1a14cc" stroke-width="1.94" stroke-dasharray="7.222 3.123" fill="none"/></g>
</g>
<rect x="1378.75" y="395.9" width="506.15" height="337.9" fill="none" stroke="#000" stroke-width="1.56"/>
<path d="M1378.75 733.8 v6.8M1473.21 733.8 v6.8M1567.68 733.8 v6.8M1662.14 733.8 v6.8M1756.6 733.8 v6.8M1851.07 733.8 v6.8M1378.75 718.44 h-6.8M1378.75 665.9 h-6.8M1378.75 613.35 h-6.8M1378.75 560.8 h-6.8M1378.75 508.26 h-6.8M1378.75 455.71 h-6.8M1378.75 403.17 h-6.8" stroke="#000" stroke-width="1.56" fill="none"/>
<g font-size="23.33">
<text x="1378.75" y="765.14" text-anchor="middle">0</text>
<text x="1473.21" y="765.14" text-anchor="middle">2</text>
<text x="1567.68" y="765.14" text-anchor="middle">4</text>
<text x="1662.14" y="765.14" text-anchor="middle">6</text>
<text x="1756.6" y="765.14" text-anchor="middle">8</text>
<text x="1851.07" y="765.14" text-anchor="middle">10</text>
<text x="1364.54" y="727.31" text-anchor="end">0</text>
<text x="1364.54" y="674.76" text-anchor="end">200</text>
<text x="1364.54" y="622.21" text-anchor="end">400</text>
<text x="1364.54" y="569.67" text-anchor="end">600</text>
<text x="1364.54" y="517.12" text-anchor="end">800</text>
<text x="1364.54" y="464.58" text-anchor="end">1000</text>
<text x="1364.54" y="412.03" text-anchor="end">1200</text>
</g>
<text x="1399.55" y="440.5" font-size="31.1">(f) acetone</text>
<circle cx="1423.25" cy="470.5" r="9" fill="#0000ff"/>
<circle cx="1423.25" cy="504.8" r="9" fill="#008000"/>
<text x="1465.75" y="477.1" font-size="23.33">MRR</text>
<text x="1465.75" y="510.7" font-size="23.33">GOMRR</text>
<g><text x="1723.15" y="525.9" font-size="16.33">Δ<tspan font-style="italic">λ</tspan><tspan font-style="italic" font-size="11.43" dy="3.27">eq</tspan></text><rect x="1723.05" y="534.9" width="36.5" height="1.3" fill="#000"/><text x="1727.25" y="549.4" font-size="16.33">Δ<tspan font-style="italic">RI</tspan></text><text x="1769.15" y="540.5" font-size="23.33">= 114.74</text></g>
<g><text x="1723.15" y="644.1" font-size="16.33">Δ<tspan font-style="italic">λ</tspan><tspan font-style="italic" font-size="11.43" dy="3.27">eq</tspan></text><rect x="1723.05" y="653.1" width="36.5" height="1.3" fill="#000"/><text x="1727.25" y="667.6" font-size="16.33">Δ<tspan font-style="italic">RI</tspan></text><text x="1769.15" y="658.7" font-size="23.33">= 52.60</text></g>
<text transform="translate(1287.05 563.95) rotate(-90)" font-size="27.4" text-anchor="middle">Δλ<tspan font-style="italic" font-size="19.18" dy="4.66">eq</tspan><tspan dy="-4.66"> (pm)</tspan></text>
</g>
<g>
<clipPath id="c6"><rect x="113.3" y="789.9" width="505.9" height="337.5"/></clipPath>
<g clip-path="url(#c6)">
<path transform="translate(133.8 1106.36)" d="M-5.83 5.83 L5.83 5.83 L0 -5.83Z" fill="#0000ff" stroke="#0000ff" stroke-width="0.5" stroke-linejoin="round"/>
<path transform="translate(155.7 1085.58)" d="M-5.83 5.83 L5.83 5.83 L0 -5.83Z" fill="#008000" stroke="#008000" stroke-width="0.5" stroke-linejoin="round"/>
<path transform="translate(185.7 1091.17)" d="M-5.83 5.83 L5.83 5.83 L0 -5.83Z" fill="#0000ff" stroke="#0000ff" stroke-width="0.5" stroke-linejoin="round"/>
<path transform="translate(178.9 1070.76)" d="M-5.83 5.83 L5.83 5.83 L0 -5.83Z" fill="#008000" stroke="#008000" stroke-width="0.5" stroke-linejoin="round"/>
<path transform="translate(193 1089.03)" d="M-5.83 5.83 L5.83 5.83 L0 -5.83Z" fill="#0000ff" stroke="#0000ff" stroke-width="0.5" stroke-linejoin="round"/>
<path transform="translate(190.1 1063.6)" d="M-5.83 5.83 L5.83 5.83 L0 -5.83Z" fill="#008000" stroke="#008000" stroke-width="0.5" stroke-linejoin="round"/>
<path transform="translate(245.1 1073.78)" d="M-5.83 5.83 L5.83 5.83 L0 -5.83Z" fill="#0000ff" stroke="#0000ff" stroke-width="0.5" stroke-linejoin="round"/>
<path transform="translate(197.35 1058.97)" d="M-5.83 5.83 L5.83 5.83 L0 -5.83Z" fill="#008000" stroke="#008000" stroke-width="0.5" stroke-linejoin="round"/>
<path transform="translate(279.1 1063.83)" d="M-5.83 5.83 L5.83 5.83 L0 -5.83Z" fill="#0000ff" stroke="#0000ff" stroke-width="0.5" stroke-linejoin="round"/>
<path transform="translate(276.7 1008.29)" d="M-5.83 5.83 L5.83 5.83 L0 -5.83Z" fill="#008000" stroke="#008000" stroke-width="0.5" stroke-linejoin="round"/>
<path transform="translate(308.3 1055.29)" d="M-5.83 5.83 L5.83 5.83 L0 -5.83Z" fill="#0000ff" stroke="#0000ff" stroke-width="0.5" stroke-linejoin="round"/>
<path transform="translate(284 1003.62)" d="M-5.83 5.83 L5.83 5.83 L0 -5.83Z" fill="#008000" stroke="#008000" stroke-width="0.5" stroke-linejoin="round"/>
<path transform="translate(345.1 1044.52)" d="M-5.83 5.83 L5.83 5.83 L0 -5.83Z" fill="#0000ff" stroke="#0000ff" stroke-width="0.5" stroke-linejoin="round"/>
<path transform="translate(521.15 852.14)" d="M-5.83 5.83 L5.83 5.83 L0 -5.83Z" fill="#008000" stroke="#008000" stroke-width="0.5" stroke-linejoin="round"/>
<path transform="translate(365.9 1038.43)" d="M-5.83 5.83 L5.83 5.83 L0 -5.83Z" fill="#0000ff" stroke="#0000ff" stroke-width="0.5" stroke-linejoin="round"/>
<path transform="translate(541.4 839.21)" d="M-5.83 5.83 L5.83 5.83 L0 -5.83Z" fill="#008000" stroke="#008000" stroke-width="0.5" stroke-linejoin="round"/>
<path transform="translate(369.7 1037.32)" d="M-5.83 5.83 L5.83 5.83 L0 -5.83Z" fill="#0000ff" stroke="#0000ff" stroke-width="0.5" stroke-linejoin="round"/>
<path transform="translate(570.2 820.81)" d="M-5.83 5.83 L5.83 5.83 L0 -5.83Z" fill="#008000" stroke="#008000" stroke-width="0.5" stroke-linejoin="round"/>
<path transform="translate(396.6 1029.44)" d="M-5.83 5.83 L5.83 5.83 L0 -5.83Z" fill="#0000ff" stroke="#0000ff" stroke-width="0.5" stroke-linejoin="round"/>
<mask id="mg6" maskUnits="userSpaceOnUse" x="113.3" y="789.9" width="505.9" height="337.5"><rect x="113.3" y="789.9" width="505.9" height="337.5" fill="#fff"/><path transform="translate(155.7 1085.58)" d="M-5.83 5.83 L5.83 5.83 L0 -5.83Z" fill="#000" stroke="#000" stroke-width="0.5" stroke-linejoin="round"/><path transform="translate(178.9 1070.76)" d="M-5.83 5.83 L5.83 5.83 L0 -5.83Z" fill="#000" stroke="#000" stroke-width="0.5" stroke-linejoin="round"/><path transform="translate(190.1 1063.6)" d="M-5.83 5.83 L5.83 5.83 L0 -5.83Z" fill="#000" stroke="#000" stroke-width="0.5" stroke-linejoin="round"/><path transform="translate(197.35 1058.97)" d="M-5.83 5.83 L5.83 5.83 L0 -5.83Z" fill="#000" stroke="#000" stroke-width="0.5" stroke-linejoin="round"/><path transform="translate(276.7 1008.29)" d="M-5.83 5.83 L5.83 5.83 L0 -5.83Z" fill="#000" stroke="#000" stroke-width="0.5" stroke-linejoin="round"/><path transform="translate(284 1003.62)" d="M-5.83 5.83 L5.83 5.83 L0 -5.83Z" fill="#000" stroke="#000" stroke-width="0.5" stroke-linejoin="round"/><path transform="translate(521.15 852.14)" d="M-5.83 5.83 L5.83 5.83 L0 -5.83Z" fill="#000" stroke="#000" stroke-width="0.5" stroke-linejoin="round"/><path transform="translate(541.4 839.21)" d="M-5.83 5.83 L5.83 5.83 L0 -5.83Z" fill="#000" stroke="#000" stroke-width="0.5" stroke-linejoin="round"/><path transform="translate(570.2 820.81)" d="M-5.83 5.83 L5.83 5.83 L0 -5.83Z" fill="#000" stroke="#000" stroke-width="0.5" stroke-linejoin="round"/></mask>
<mask id="mb6" maskUnits="userSpaceOnUse" x="113.3" y="789.9" width="505.9" height="337.5"><rect x="113.3" y="789.9" width="505.9" height="337.5" fill="#fff"/><path transform="translate(133.8 1106.36)" d="M-5.83 5.83 L5.83 5.83 L0 -5.83Z" fill="#000" stroke="#000" stroke-width="0.5" stroke-linejoin="round"/><path transform="translate(185.7 1091.17)" d="M-5.83 5.83 L5.83 5.83 L0 -5.83Z" fill="#000" stroke="#000" stroke-width="0.5" stroke-linejoin="round"/><path transform="translate(193 1089.03)" d="M-5.83 5.83 L5.83 5.83 L0 -5.83Z" fill="#000" stroke="#000" stroke-width="0.5" stroke-linejoin="round"/><path transform="translate(245.1 1073.78)" d="M-5.83 5.83 L5.83 5.83 L0 -5.83Z" fill="#000" stroke="#000" stroke-width="0.5" stroke-linejoin="round"/><path transform="translate(279.1 1063.83)" d="M-5.83 5.83 L5.83 5.83 L0 -5.83Z" fill="#000" stroke="#000" stroke-width="0.5" stroke-linejoin="round"/><path transform="translate(308.3 1055.29)" d="M-5.83 5.83 L5.83 5.83 L0 -5.83Z" fill="#000" stroke="#000" stroke-width="0.5" stroke-linejoin="round"/><path transform="translate(345.1 1044.52)" d="M-5.83 5.83 L5.83 5.83 L0 -5.83Z" fill="#000" stroke="#000" stroke-width="0.5" stroke-linejoin="round"/><path transform="translate(365.9 1038.43)" d="M-5.83 5.83 L5.83 5.83 L0 -5.83Z" fill="#000" stroke="#000" stroke-width="0.5" stroke-linejoin="round"/><path transform="translate(369.7 1037.32)" d="M-5.83 5.83 L5.83 5.83 L0 -5.83Z" fill="#000" stroke="#000" stroke-width="0.5" stroke-linejoin="round"/><path transform="translate(396.6 1029.44)" d="M-5.83 5.83 L5.83 5.83 L0 -5.83Z" fill="#000" stroke="#000" stroke-width="0.5" stroke-linejoin="round"/></mask>
<g mask="url(#mg6)"><path d="M113.3 1112.06 L595.11 805.24" stroke="#1c761c" stroke-width="1.94" stroke-dasharray="7.222 3.123" fill="none"/></g>
<g mask="url(#mb6)"><path d="M113.3 1112.06 L595.11 971.52" stroke="#1a14cc" stroke-width="1.94" stroke-dasharray="7.222 3.123" fill="none"/></g>
</g>
<rect x="113.3" y="789.9" width="505.9" height="337.5" fill="none" stroke="#000" stroke-width="1.56"/>
<path d="M113.3 1127.4 v6.8M210.68 1127.4 v6.8M308.07 1127.4 v6.8M405.45 1127.4 v6.8M502.84 1127.4 v6.8M600.22 1127.4 v6.8M113.3 1112.06 h-6.8M113.3 1058.18 h-6.8M113.3 1004.3 h-6.8M113.3 950.42 h-6.8M113.3 896.54 h-6.8M113.3 842.66 h-6.8" stroke="#000" stroke-width="1.56" fill="none"/>
<g font-size="23.33">
<text x="113.3" y="1158.74" text-anchor="middle">0</text>
<text x="210.68" y="1158.74" text-anchor="middle">2</text>
<text x="308.07" y="1158.74" text-anchor="middle">4</text>
<text x="405.45" y="1158.74" text-anchor="middle">6</text>
<text x="502.84" y="1158.74" text-anchor="middle">8</text>
<text x="600.22" y="1158.74" text-anchor="middle">10</text>
<text x="99.09" y="1120.92" text-anchor="end">0</text>
<text x="99.09" y="1067.04" text-anchor="end">200</text>
<text x="99.09" y="1013.17" text-anchor="end">400</text>
<text x="99.09" y="959.29" text-anchor="end">600</text>
<text x="99.09" y="905.41" text-anchor="end">800</text>
<text x="99.09" y="851.53" text-anchor="end">1000</text>
</g>
<text x="134.1" y="834.5" font-size="31.1">(g) ethanol</text>
<path transform="translate(157.8 864.5)" d="M-8.75 8.75 L8.75 8.75 L0 -8.75Z" fill="#0000ff" stroke="#0000ff" stroke-width="0.5" stroke-linejoin="round"/>
<path transform="translate(157.8 898.8)" d="M-8.75 8.75 L8.75 8.75 L0 -8.75Z" fill="#008000" stroke="#008000" stroke-width="0.5" stroke-linejoin="round"/>
<text x="200.3" y="871.1" font-size="23.33">MRR</text>
<text x="200.3" y="904.7" font-size="23.33">GOMRR</text>
<g><text x="457.7" y="919.9" font-size="16.33">Δ<tspan font-style="italic">λ</tspan><tspan font-style="italic" font-size="11.43" dy="3.27">eq</tspan></text><rect x="457.6" y="928.9" width="36.5" height="1.3" fill="#000"/><text x="461.8" y="943.4" font-size="16.33">Δ<tspan font-style="italic">RI</tspan></text><text x="503.7" y="934.5" font-size="23.33">= 114.81</text></g>
<g><text x="457.7" y="1038.1" font-size="16.33">Δ<tspan font-style="italic">λ</tspan><tspan font-style="italic" font-size="11.43" dy="3.27">eq</tspan></text><rect x="457.6" y="1047.1" width="36.5" height="1.3" fill="#000"/><text x="461.8" y="1061.6" font-size="16.33">Δ<tspan font-style="italic">RI</tspan></text><text x="503.7" y="1052.7" font-size="23.33">= 52.59</text></g>
<text transform="translate(21.6 957.75) rotate(-90)" font-size="27.4" text-anchor="middle">Δλ<tspan font-style="italic" font-size="19.18" dy="4.66">eq</tspan><tspan dy="-4.66"> (pm)</tspan></text>
<text x="367" y="1198.2" font-size="31.1" text-anchor="middle">Δ RI (×10<tspan font-size="21.77" dx="1.3" dy="-11.51">−3</tspan><tspan dx="0.2" dy="11.51">)</tspan></text>
</g>
<g>
<clipPath id="c7"><rect x="746.1" y="789.9" width="506.1" height="337.5"/></clipPath>
<g clip-path="url(#c7)">
<path transform="translate(759.8 1108.38)" d="M2.92 -5.05 L5.83 -0 L2.92 5.05 L-2.92 5.05 L-5.83 0 L-2.92 -5.05Z" fill="#0000ff" stroke="#0000ff" stroke-width="0.5" stroke-linejoin="round"/>
<path transform="translate(772.5 1095.8)" d="M2.92 -5.05 L5.83 -0 L2.92 5.05 L-2.92 5.05 L-5.83 0 L-2.92 -5.05Z" fill="#008000" stroke="#008000" stroke-width="0.5" stroke-linejoin="round"/>
<path transform="translate(764.6 1106.98)" d="M2.92 -5.05 L5.83 -0 L2.92 5.05 L-2.92 5.05 L-5.83 0 L-2.92 -5.05Z" fill="#0000ff" stroke="#0000ff" stroke-width="0.5" stroke-linejoin="round"/>
<path transform="translate(818.2 1066.62)" d="M2.92 -5.05 L5.83 -0 L2.92 5.05 L-2.92 5.05 L-5.83 0 L-2.92 -5.05Z" fill="#008000" stroke="#008000" stroke-width="0.5" stroke-linejoin="round"/>
<path transform="translate(769.1 1105.67)" d="M2.92 -5.05 L5.83 -0 L2.92 5.05 L-2.92 5.05 L-5.83 0 L-2.92 -5.05Z" fill="#0000ff" stroke="#0000ff" stroke-width="0.5" stroke-linejoin="round"/>
<path transform="translate(839.6 1052.96)" d="M2.92 -5.05 L5.83 -0 L2.92 5.05 L-2.92 5.05 L-5.83 0 L-2.92 -5.05Z" fill="#008000" stroke="#008000" stroke-width="0.5" stroke-linejoin="round"/>
<path transform="translate(773.6 1104.37)" d="M2.92 -5.05 L5.83 -0 L2.92 5.05 L-2.92 5.05 L-5.83 0 L-2.92 -5.05Z" fill="#0000ff" stroke="#0000ff" stroke-width="0.5" stroke-linejoin="round"/>
<path transform="translate(850.1 1046.25)" d="M2.92 -5.05 L5.83 -0 L2.92 5.05 L-2.92 5.05 L-5.83 0 L-2.92 -5.05Z" fill="#008000" stroke="#008000" stroke-width="0.5" stroke-linejoin="round"/>
<path transform="translate(778.1 1103.06)" d="M2.92 -5.05 L5.83 -0 L2.92 5.05 L-2.92 5.05 L-5.83 0 L-2.92 -5.05Z" fill="#0000ff" stroke="#0000ff" stroke-width="0.5" stroke-linejoin="round"/>
<path transform="translate(1055.7 914.98)" d="M2.92 -5.05 L5.83 -0 L2.92 5.05 L-2.92 5.05 L-5.83 0 L-2.92 -5.05Z" fill="#008000" stroke="#008000" stroke-width="0.5" stroke-linejoin="round"/>
<path transform="translate(782.6 1101.75)" d="M2.92 -5.05 L5.83 -0 L2.92 5.05 L-2.92 5.05 L-5.83 0 L-2.92 -5.05Z" fill="#0000ff" stroke="#0000ff" stroke-width="0.5" stroke-linejoin="round"/>
<path transform="translate(1076.9 901.44)" d="M2.92 -5.05 L5.83 -0 L2.92 5.05 L-2.92 5.05 L-5.83 0 L-2.92 -5.05Z" fill="#008000" stroke="#008000" stroke-width="0.5" stroke-linejoin="round"/>
<path transform="translate(787.1 1100.44)" d="M2.92 -5.05 L5.83 -0 L2.92 5.05 L-2.92 5.05 L-5.83 0 L-2.92 -5.05Z" fill="#0000ff" stroke="#0000ff" stroke-width="0.5" stroke-linejoin="round"/>
<path transform="translate(1152.2 853.36)" d="M2.92 -5.05 L5.83 -0 L2.92 5.05 L-2.92 5.05 L-5.83 0 L-2.92 -5.05Z" fill="#008000" stroke="#008000" stroke-width="0.5" stroke-linejoin="round"/>
<path transform="translate(791.6 1099.13)" d="M2.92 -5.05 L5.83 -0 L2.92 5.05 L-2.92 5.05 L-5.83 0 L-2.92 -5.05Z" fill="#0000ff" stroke="#0000ff" stroke-width="0.5" stroke-linejoin="round"/>
<path transform="translate(1205.2 819.52)" d="M2.92 -5.05 L5.83 -0 L2.92 5.05 L-2.92 5.05 L-5.83 0 L-2.92 -5.05Z" fill="#008000" stroke="#008000" stroke-width="0.5" stroke-linejoin="round"/>
<path transform="translate(795.7 1097.94)" d="M2.92 -5.05 L5.83 -0 L2.92 5.05 L-2.92 5.05 L-5.83 0 L-2.92 -5.05Z" fill="#0000ff" stroke="#0000ff" stroke-width="0.5" stroke-linejoin="round"/>
<mask id="mg7" maskUnits="userSpaceOnUse" x="746.1" y="789.9" width="506.1" height="337.5"><rect x="746.1" y="789.9" width="506.1" height="337.5" fill="#fff"/><path transform="translate(772.5 1095.8)" d="M2.92 -5.05 L5.83 -0 L2.92 5.05 L-2.92 5.05 L-5.83 0 L-2.92 -5.05Z" fill="#000" stroke="#000" stroke-width="0.5" stroke-linejoin="round"/><path transform="translate(818.2 1066.62)" d="M2.92 -5.05 L5.83 -0 L2.92 5.05 L-2.92 5.05 L-5.83 0 L-2.92 -5.05Z" fill="#000" stroke="#000" stroke-width="0.5" stroke-linejoin="round"/><path transform="translate(839.6 1052.96)" d="M2.92 -5.05 L5.83 -0 L2.92 5.05 L-2.92 5.05 L-5.83 0 L-2.92 -5.05Z" fill="#000" stroke="#000" stroke-width="0.5" stroke-linejoin="round"/><path transform="translate(850.1 1046.25)" d="M2.92 -5.05 L5.83 -0 L2.92 5.05 L-2.92 5.05 L-5.83 0 L-2.92 -5.05Z" fill="#000" stroke="#000" stroke-width="0.5" stroke-linejoin="round"/><path transform="translate(1055.7 914.98)" d="M2.92 -5.05 L5.83 -0 L2.92 5.05 L-2.92 5.05 L-5.83 0 L-2.92 -5.05Z" fill="#000" stroke="#000" stroke-width="0.5" stroke-linejoin="round"/><path transform="translate(1076.9 901.44)" d="M2.92 -5.05 L5.83 -0 L2.92 5.05 L-2.92 5.05 L-5.83 0 L-2.92 -5.05Z" fill="#000" stroke="#000" stroke-width="0.5" stroke-linejoin="round"/><path transform="translate(1152.2 853.36)" d="M2.92 -5.05 L5.83 -0 L2.92 5.05 L-2.92 5.05 L-5.83 0 L-2.92 -5.05Z" fill="#000" stroke="#000" stroke-width="0.5" stroke-linejoin="round"/><path transform="translate(1205.2 819.52)" d="M2.92 -5.05 L5.83 -0 L2.92 5.05 L-2.92 5.05 L-5.83 0 L-2.92 -5.05Z" fill="#000" stroke="#000" stroke-width="0.5" stroke-linejoin="round"/></mask>
<mask id="mb7" maskUnits="userSpaceOnUse" x="746.1" y="789.9" width="506.1" height="337.5"><rect x="746.1" y="789.9" width="506.1" height="337.5" fill="#fff"/><path transform="translate(759.8 1108.38)" d="M2.92 -5.05 L5.83 -0 L2.92 5.05 L-2.92 5.05 L-5.83 0 L-2.92 -5.05Z" fill="#000" stroke="#000" stroke-width="0.5" stroke-linejoin="round"/><path transform="translate(764.6 1106.98)" d="M2.92 -5.05 L5.83 -0 L2.92 5.05 L-2.92 5.05 L-5.83 0 L-2.92 -5.05Z" fill="#000" stroke="#000" stroke-width="0.5" stroke-linejoin="round"/><path transform="translate(769.1 1105.67)" d="M2.92 -5.05 L5.83 -0 L2.92 5.05 L-2.92 5.05 L-5.83 0 L-2.92 -5.05Z" fill="#000" stroke="#000" stroke-width="0.5" stroke-linejoin="round"/><path transform="translate(773.6 1104.37)" d="M2.92 -5.05 L5.83 -0 L2.92 5.05 L-2.92 5.05 L-5.83 0 L-2.92 -5.05Z" fill="#000" stroke="#000" stroke-width="0.5" stroke-linejoin="round"/><path transform="translate(778.1 1103.06)" d="M2.92 -5.05 L5.83 -0 L2.92 5.05 L-2.92 5.05 L-5.83 0 L-2.92 -5.05Z" fill="#000" stroke="#000" stroke-width="0.5" stroke-linejoin="round"/><path transform="translate(782.6 1101.75)" d="M2.92 -5.05 L5.83 -0 L2.92 5.05 L-2.92 5.05 L-5.83 0 L-2.92 -5.05Z" fill="#000" stroke="#000" stroke-width="0.5" stroke-linejoin="round"/><path transform="translate(787.1 1100.44)" d="M2.92 -5.05 L5.83 -0 L2.92 5.05 L-2.92 5.05 L-5.83 0 L-2.92 -5.05Z" fill="#000" stroke="#000" stroke-width="0.5" stroke-linejoin="round"/><path transform="translate(791.6 1099.13)" d="M2.92 -5.05 L5.83 -0 L2.92 5.05 L-2.92 5.05 L-5.83 0 L-2.92 -5.05Z" fill="#000" stroke="#000" stroke-width="0.5" stroke-linejoin="round"/><path transform="translate(795.7 1097.94)" d="M2.92 -5.05 L5.83 -0 L2.92 5.05 L-2.92 5.05 L-5.83 0 L-2.92 -5.05Z" fill="#000" stroke="#000" stroke-width="0.5" stroke-linejoin="round"/></mask>
<g mask="url(#mg7)"><path d="M746.1 1112.06 L1228.1 805.24" stroke="#1c761c" stroke-width="1.94" stroke-dasharray="7.222 3.123" fill="none"/></g>
<g mask="url(#mb7)"><path d="M746.1 1112.06 L1228.1 972.42" stroke="#1a14cc" stroke-width="1.94" stroke-dasharray="7.222 3.123" fill="none"/></g>
</g>
<rect x="746.1" y="789.9" width="506.1" height="337.5" fill="none" stroke="#000" stroke-width="1.56"/>
<path d="M746.1 1127.4 v6.8M875.76 1127.4 v6.8M1005.41 1127.4 v6.8M1135.07 1127.4 v6.8M746.1 1112.06 h-6.8M746.1 1040.06 h-6.8M746.1 968.06 h-6.8M746.1 896.06 h-6.8M746.1 824.06 h-6.8" stroke="#000" stroke-width="1.56" fill="none"/>
<g font-size="23.33">
<text x="746.1" y="1158.74" text-anchor="middle">0</text>
<text x="875.76" y="1158.74" text-anchor="middle">2</text>
<text x="1005.41" y="1158.74" text-anchor="middle">4</text>
<text x="1135.07" y="1158.74" text-anchor="middle">6</text>
<text x="731.89" y="1120.92" text-anchor="end">0</text>
<text x="731.89" y="1048.92" text-anchor="end">200</text>
<text x="731.89" y="976.92" text-anchor="end">400</text>
<text x="731.89" y="904.92" text-anchor="end">600</text>
<text x="731.89" y="832.92" text-anchor="end">800</text>
</g>
<text x="766.9" y="834.5" font-size="31.1">(h) water</text>
<path transform="translate(790.6 864.5)" d="M4.37 -7.58 L8.75 -0 L4.37 7.58 L-4.37 7.58 L-8.75 0 L-4.37 -7.58Z" fill="#0000ff" stroke="#0000ff" stroke-width="0.5" stroke-linejoin="round"/>
<path transform="translate(790.6 898.8)" d="M4.37 -7.58 L8.75 -0 L4.37 7.58 L-4.37 7.58 L-8.75 0 L-4.37 -7.58Z" fill="#008000" stroke="#008000" stroke-width="0.5" stroke-linejoin="round"/>
<text x="833.1" y="871.1" font-size="23.33">MRR</text>
<text x="833.1" y="904.7" font-size="23.33">GOMRR</text>
<g><text x="1090.5" y="919.9" font-size="16.33">Δ<tspan font-style="italic">λ</tspan><tspan font-style="italic" font-size="11.43" dy="3.27">eq</tspan></text><rect x="1090.4" y="928.9" width="36.5" height="1.3" fill="#000"/><text x="1094.6" y="943.4" font-size="16.33">Δ<tspan font-style="italic">RI</tspan></text><text x="1136.5" y="934.5" font-size="23.33">= 114.63</text></g>
<g><text x="1090.5" y="1038.1" font-size="16.33">Δ<tspan font-style="italic">λ</tspan><tspan font-style="italic" font-size="11.43" dy="3.27">eq</tspan></text><rect x="1090.4" y="1047.1" width="36.5" height="1.3" fill="#000"/><text x="1094.6" y="1061.6" font-size="16.33">Δ<tspan font-style="italic">RI</tspan></text><text x="1136.5" y="1052.7" font-size="23.33">= 52.17</text></g>
<text transform="translate(670.1 957.75) rotate(-90)" font-size="27.4" text-anchor="middle">Δλ<tspan font-style="italic" font-size="19.18" dy="4.66">eq</tspan><tspan dy="-4.66"> (pm)</tspan></text>
<text x="999.9" y="1198.2" font-size="31.1" text-anchor="middle">Δ RI (×10<tspan font-size="21.77" dx="1.3" dy="-11.51">−3</tspan><tspan dx="0.2" dy="11.51">)</tspan></text>
</g>
<g>
<clipPath id="c8"><rect x="1378.75" y="789.9" width="506.15" height="337.5"/></clipPath>
<g clip-path="url(#c8)">
<path transform="translate(1396.45 1107.23)" d="M5.83 -5.83 L5.83 5.83 L-5.83 0Z" fill="#0000ff" stroke="#0000ff" stroke-width="0.5" stroke-linejoin="round"/>
<path transform="translate(1408.75 1096.86)" d="M5.83 -5.83 L5.83 5.83 L-5.83 0Z" fill="#008000" stroke="#008000" stroke-width="0.5" stroke-linejoin="round"/>
<path transform="translate(1485.55 1080.63)" d="M5.83 -5.83 L5.83 5.83 L-5.83 0Z" fill="#0000ff" stroke="#0000ff" stroke-width="0.5" stroke-linejoin="round"/>
<path transform="translate(1429.45 1081.89)" d="M5.83 -5.83 L5.83 5.83 L-5.83 0Z" fill="#008000" stroke="#008000" stroke-width="0.5" stroke-linejoin="round"/>
<path transform="translate(1543.75 1062.82)" d="M5.83 -5.83 L5.83 5.83 L-5.83 0Z" fill="#0000ff" stroke="#0000ff" stroke-width="0.5" stroke-linejoin="round"/>
<path transform="translate(1447.85 1070.18)" d="M5.83 -5.83 L5.83 5.83 L-5.83 0Z" fill="#008000" stroke="#008000" stroke-width="0.5" stroke-linejoin="round"/>
<path transform="translate(1602.35 1045.19)" d="M5.83 -5.83 L5.83 5.83 L-5.83 0Z" fill="#0000ff" stroke="#0000ff" stroke-width="0.5" stroke-linejoin="round"/>
<path transform="translate(1480.45 1049.33)" d="M5.83 -5.83 L5.83 5.83 L-5.83 0Z" fill="#008000" stroke="#008000" stroke-width="0.5" stroke-linejoin="round"/>
<path transform="translate(1678.45 1022.3)" d="M5.83 -5.83 L5.83 5.83 L-5.83 0Z" fill="#0000ff" stroke="#0000ff" stroke-width="0.5" stroke-linejoin="round"/>
<path transform="translate(1514.15 1027.08)" d="M5.83 -5.83 L5.83 5.83 L-5.83 0Z" fill="#008000" stroke="#008000" stroke-width="0.5" stroke-linejoin="round"/>
<path transform="translate(1749.45 1000.94)" d="M5.83 -5.83 L5.83 5.83 L-5.83 0Z" fill="#0000ff" stroke="#0000ff" stroke-width="0.5" stroke-linejoin="round"/>
<path transform="translate(1532.75 1014.04)" d="M5.83 -5.83 L5.83 5.83 L-5.83 0Z" fill="#008000" stroke="#008000" stroke-width="0.5" stroke-linejoin="round"/>
<path transform="translate(1810.5 982.57)" d="M5.83 -5.83 L5.83 5.83 L-5.83 0Z" fill="#0000ff" stroke="#0000ff" stroke-width="0.5" stroke-linejoin="round"/>
<path transform="translate(1537.65 1010.92)" d="M5.83 -5.83 L5.83 5.83 L-5.83 0Z" fill="#008000" stroke="#008000" stroke-width="0.5" stroke-linejoin="round"/>
<path transform="translate(1837.75 974.38)" d="M5.83 -5.83 L5.83 5.83 L-5.83 0Z" fill="#0000ff" stroke="#0000ff" stroke-width="0.5" stroke-linejoin="round"/>
<path transform="translate(1553.05 1000.52)" d="M5.83 -5.83 L5.83 5.83 L-5.83 0Z" fill="#008000" stroke="#008000" stroke-width="0.5" stroke-linejoin="round"/>
<path transform="translate(1567.75 991.76)" d="M5.83 -5.83 L5.83 5.83 L-5.83 0Z" fill="#008000" stroke="#008000" stroke-width="0.5" stroke-linejoin="round"/>
<mask id="mg8" maskUnits="userSpaceOnUse" x="1378.75" y="789.9" width="506.15" height="337.5"><rect x="1378.75" y="789.9" width="506.15" height="337.5" fill="#fff"/><path transform="translate(1408.75 1096.86)" d="M5.83 -5.83 L5.83 5.83 L-5.83 0Z" fill="#000" stroke="#000" stroke-width="0.5" stroke-linejoin="round"/><path transform="translate(1429.45 1081.89)" d="M5.83 -5.83 L5.83 5.83 L-5.83 0Z" fill="#000" stroke="#000" stroke-width="0.5" stroke-linejoin="round"/><path transform="translate(1447.85 1070.18)" d="M5.83 -5.83 L5.83 5.83 L-5.83 0Z" fill="#000" stroke="#000" stroke-width="0.5" stroke-linejoin="round"/><path transform="translate(1480.45 1049.33)" d="M5.83 -5.83 L5.83 5.83 L-5.83 0Z" fill="#000" stroke="#000" stroke-width="0.5" stroke-linejoin="round"/><path transform="translate(1514.15 1027.08)" d="M5.83 -5.83 L5.83 5.83 L-5.83 0Z" fill="#000" stroke="#000" stroke-width="0.5" stroke-linejoin="round"/><path transform="translate(1532.75 1014.04)" d="M5.83 -5.83 L5.83 5.83 L-5.83 0Z" fill="#000" stroke="#000" stroke-width="0.5" stroke-linejoin="round"/><path transform="translate(1537.65 1010.92)" d="M5.83 -5.83 L5.83 5.83 L-5.83 0Z" fill="#000" stroke="#000" stroke-width="0.5" stroke-linejoin="round"/><path transform="translate(1553.05 1000.52)" d="M5.83 -5.83 L5.83 5.83 L-5.83 0Z" fill="#000" stroke="#000" stroke-width="0.5" stroke-linejoin="round"/><path transform="translate(1567.75 991.76)" d="M5.83 -5.83 L5.83 5.83 L-5.83 0Z" fill="#000" stroke="#000" stroke-width="0.5" stroke-linejoin="round"/></mask>
<mask id="mb8" maskUnits="userSpaceOnUse" x="1378.75" y="789.9" width="506.15" height="337.5"><rect x="1378.75" y="789.9" width="506.15" height="337.5" fill="#fff"/><path transform="translate(1396.45 1107.23)" d="M5.83 -5.83 L5.83 5.83 L-5.83 0Z" fill="#000" stroke="#000" stroke-width="0.5" stroke-linejoin="round"/><path transform="translate(1485.55 1080.63)" d="M5.83 -5.83 L5.83 5.83 L-5.83 0Z" fill="#000" stroke="#000" stroke-width="0.5" stroke-linejoin="round"/><path transform="translate(1543.75 1062.82)" d="M5.83 -5.83 L5.83 5.83 L-5.83 0Z" fill="#000" stroke="#000" stroke-width="0.5" stroke-linejoin="round"/><path transform="translate(1602.35 1045.19)" d="M5.83 -5.83 L5.83 5.83 L-5.83 0Z" fill="#000" stroke="#000" stroke-width="0.5" stroke-linejoin="round"/><path transform="translate(1678.45 1022.3)" d="M5.83 -5.83 L5.83 5.83 L-5.83 0Z" fill="#000" stroke="#000" stroke-width="0.5" stroke-linejoin="round"/><path transform="translate(1749.45 1000.94)" d="M5.83 -5.83 L5.83 5.83 L-5.83 0Z" fill="#000" stroke="#000" stroke-width="0.5" stroke-linejoin="round"/><path transform="translate(1810.5 982.57)" d="M5.83 -5.83 L5.83 5.83 L-5.83 0Z" fill="#000" stroke="#000" stroke-width="0.5" stroke-linejoin="round"/><path transform="translate(1837.75 974.38)" d="M5.83 -5.83 L5.83 5.83 L-5.83 0Z" fill="#000" stroke="#000" stroke-width="0.5" stroke-linejoin="round"/></mask>
<g mask="url(#mg8)"><path d="M1378.75 1112.06 L1860.8 805.24" stroke="#1c761c" stroke-width="1.94" stroke-dasharray="7.222 3.123" fill="none"/></g>
<g mask="url(#mb8)"><path d="M1378.75 1112.06 L1860.8 967.04" stroke="#1a14cc" stroke-width="1.94" stroke-dasharray="7.222 3.123" fill="none"/></g>
</g>
<rect x="1378.75" y="789.9" width="506.15" height="337.5" fill="none" stroke="#000" stroke-width="1.56"/>
<path d="M1378.75 1127.4 v6.8M1535.13 1127.4 v6.8M1691.51 1127.4 v6.8M1847.9 1127.4 v6.8M1378.75 1112.06 h-6.8M1378.75 1022.48 h-6.8M1378.75 932.91 h-6.8M1378.75 843.33 h-6.8" stroke="#000" stroke-width="1.56" fill="none"/>
<g font-size="23.33">
<text x="1378.75" y="1158.74" text-anchor="middle">0</text>
<text x="1535.13" y="1158.74" text-anchor="middle">1</text>
<text x="1691.51" y="1158.74" text-anchor="middle">2</text>
<text x="1847.9" y="1158.74" text-anchor="middle">3</text>
<text x="1364.54" y="1120.92" text-anchor="end">0</text>
<text x="1364.54" y="1031.35" text-anchor="end">100</text>
<text x="1364.54" y="941.77" text-anchor="end">200</text>
<text x="1364.54" y="852.2" text-anchor="end">300</text>
</g>
<text x="1399.55" y="834.5" font-size="31.1">(i) hexane</text>
<path transform="translate(1423.25 864.5)" d="M8.75 -8.75 L8.75 8.75 L-8.75 0Z" fill="#0000ff" stroke="#0000ff" stroke-width="0.5" stroke-linejoin="round"/>
<path transform="translate(1423.25 898.8)" d="M8.75 -8.75 L8.75 8.75 L-8.75 0Z" fill="#008000" stroke="#008000" stroke-width="0.5" stroke-linejoin="round"/>
<text x="1465.75" y="871.1" font-size="23.33">MRR</text>
<text x="1465.75" y="904.7" font-size="23.33">GOMRR</text>
<g><text x="1723.15" y="919.9" font-size="16.33">Δ<tspan font-style="italic">λ</tspan><tspan font-style="italic" font-size="11.43" dy="3.27">eq</tspan></text><rect x="1723.05" y="928.9" width="36.5" height="1.3" fill="#000"/><text x="1727.25" y="943.4" font-size="16.33">Δ<tspan font-style="italic">RI</tspan></text><text x="1769.15" y="934.5" font-size="23.33">= 111.12</text></g>
<g><text x="1723.15" y="1038.1" font-size="16.33">Δ<tspan font-style="italic">λ</tspan><tspan font-style="italic" font-size="11.43" dy="3.27">eq</tspan></text><rect x="1723.05" y="1047.1" width="36.5" height="1.3" fill="#000"/><text x="1727.25" y="1061.6" font-size="16.33">Δ<tspan font-style="italic">RI</tspan></text><text x="1769.15" y="1052.7" font-size="23.33">= 52.52</text></g>
<text transform="translate(1302.75 957.75) rotate(-90)" font-size="27.4" text-anchor="middle">Δλ<tspan font-style="italic" font-size="19.18" dy="4.66">eq</tspan><tspan dy="-4.66"> (pm)</tspan></text>
<text x="1632.58" y="1198.2" font-size="31.1" text-anchor="middle">Δ RI (×10<tspan font-size="21.77" dx="1.3" dy="-11.51">−3</tspan><tspan dx="0.2" dy="11.51">)</tspan></text>
</g>
</g>
</svg>
</body>
</html>
